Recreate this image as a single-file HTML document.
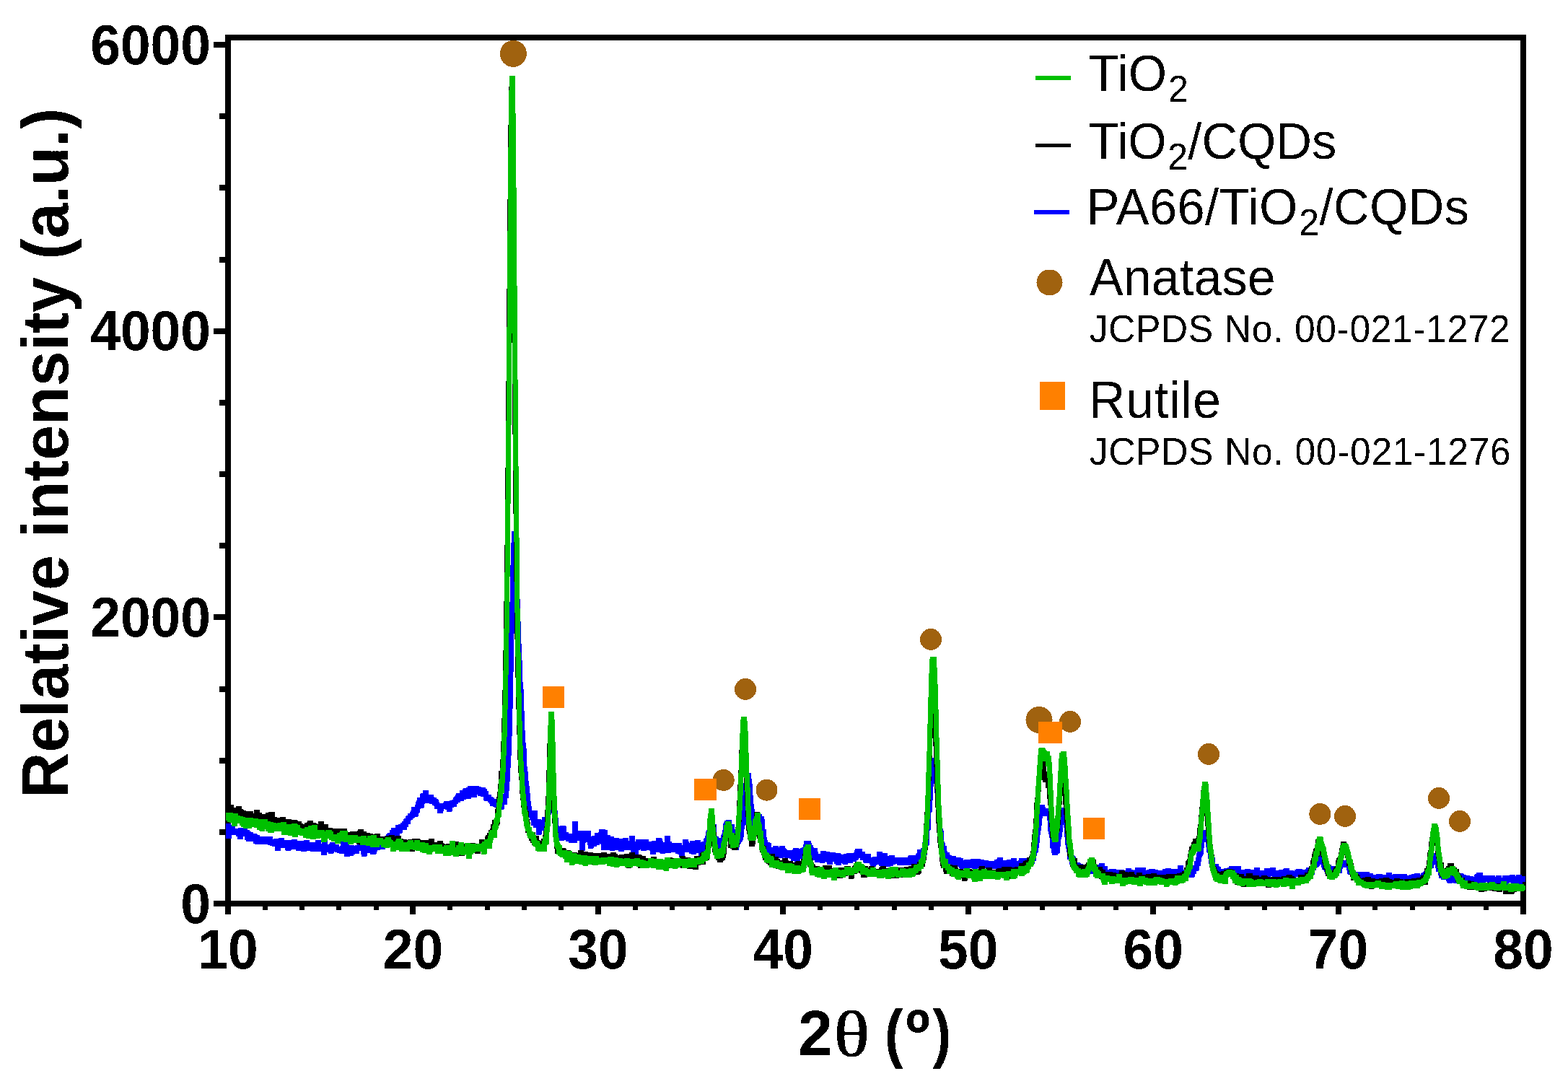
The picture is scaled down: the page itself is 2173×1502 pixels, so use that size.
<!DOCTYPE html><html><head><meta charset="utf-8"><title>XRD</title><style>html,body{margin:0;padding:0;background:#fff;width:2173px;height:1502px;overflow:hidden}svg{display:block}</style></head><body><svg width="2173" height="1502" viewBox="0 0 2173 1502"><rect width="100%" height="100%" fill="#fff"/><defs><filter id="al" x="0" y="0" width="100%" height="100%" filterUnits="userSpaceOnUse" color-interpolation-filters="sRGB"><feComponentTransfer><feFuncA type="discrete" tableValues="0 1"/></feComponentTransfer></filter></defs><g fill="#000" shape-rendering="crispEdges"><rect x="312" y="48" width="1803" height="8"/><rect x="312" y="1248" width="1803" height="8"/><rect x="312" y="48" width="8" height="1208"/><rect x="2107" y="48" width="8" height="1208"/><rect x="296" y="1248.0" width="16" height="8"/><rect x="304" y="1148.8" width="8" height="8"/><rect x="304" y="1049.7" width="8" height="8"/><rect x="304" y="950.5" width="8" height="8"/><rect x="296" y="851.3" width="16" height="8"/><rect x="304" y="752.2" width="8" height="8"/><rect x="304" y="653.0" width="8" height="8"/><rect x="304" y="553.8" width="8" height="8"/><rect x="296" y="454.7" width="16" height="8"/><rect x="304" y="355.5" width="8" height="8"/><rect x="304" y="256.3" width="8" height="8"/><rect x="304" y="157.2" width="8" height="8"/><rect x="296" y="58.0" width="16" height="8"/><rect x="312.0" y="1256" width="8" height="11"/><rect x="363.8" y="1256" width="7" height="5"/><rect x="415.1" y="1256" width="7" height="5"/><rect x="466.4" y="1256" width="7" height="5"/><rect x="517.6" y="1256" width="7" height="5"/><rect x="568.4" y="1256" width="8" height="11"/><rect x="620.2" y="1256" width="7" height="5"/><rect x="671.5" y="1256" width="7" height="5"/><rect x="722.8" y="1256" width="7" height="5"/><rect x="774.1" y="1256" width="7" height="5"/><rect x="824.9" y="1256" width="8" height="11"/><rect x="876.6" y="1256" width="7" height="5"/><rect x="927.9" y="1256" width="7" height="5"/><rect x="979.2" y="1256" width="7" height="5"/><rect x="1030.5" y="1256" width="7" height="5"/><rect x="1081.3" y="1256" width="8" height="11"/><rect x="1133.1" y="1256" width="7" height="5"/><rect x="1184.4" y="1256" width="7" height="5"/><rect x="1235.6" y="1256" width="7" height="5"/><rect x="1286.9" y="1256" width="7" height="5"/><rect x="1337.7" y="1256" width="8" height="11"/><rect x="1389.5" y="1256" width="7" height="5"/><rect x="1440.8" y="1256" width="7" height="5"/><rect x="1492.1" y="1256" width="7" height="5"/><rect x="1543.4" y="1256" width="7" height="5"/><rect x="1594.1" y="1256" width="8" height="11"/><rect x="1645.9" y="1256" width="7" height="5"/><rect x="1697.2" y="1256" width="7" height="5"/><rect x="1748.5" y="1256" width="7" height="5"/><rect x="1799.8" y="1256" width="7" height="5"/><rect x="1850.6" y="1256" width="8" height="11"/><rect x="1902.4" y="1256" width="7" height="5"/><rect x="1953.6" y="1256" width="7" height="5"/><rect x="2004.9" y="1256" width="7" height="5"/><rect x="2056.2" y="1256" width="7" height="5"/><rect x="2107.0" y="1256" width="8" height="11"/></g><g shape-rendering="crispEdges"><polygon fill="#0000ff" points="313,1141 320,1141 320.5,1143 326,1143 326.5,1147.5 329,1147.5 329.5,1148 330,1148 330.5,1147 338,1147 338.5,1148 342.5,1148 343,1149.5 343.5,1149.5 344,1150 345.5,1150 346,1151.5 347.5,1151.5 348,1153 350.5,1153 351,1155 355.5,1155 356,1155.5 356.5,1155.5 357,1157 360,1157 360.5,1158.5 370,1158.5 370.5,1159 378,1159 378.5,1162.5 379,1161.5 385.5,1161.5 386,1160.5 393.5,1160.5 394,1164 396.5,1164 397,1165.5 397.5,1164 404,1164 404.5,1163 412,1163 412.5,1164.5 420.5,1164.5 421,1164 428.5,1164 429,1167 437,1167 437.5,1164 445,1164 445.5,1169 446,1169 446.5,1164.5 454,1164.5 454.5,1169.5 456.5,1169.5 457,1167 464.5,1167 465,1170 469.5,1170 470,1172.5 471.5,1172.5 472,1165 480,1165 480.5,1166.5 483,1166.5 483.5,1170.5 491,1170.5 491.5,1172.5 492,1172.5 492.5,1171 494.5,1171 495,1166 502.5,1166 503,1169 505.5,1169 506,1170 506.5,1170 507,1167.5 510.5,1167.5 511,1167 516,1167 516.5,1166.5 525,1166.5 525.5,1159 532.5,1159 533,1158 534.5,1158 535,1155.5 536.5,1155.5 537,1154 539.5,1154 540,1150 541.5,1150 542,1147 547.5,1147 548,1142.5 551.5,1142.5 552,1142 555,1142 555.5,1140 557,1140 557.5,1138 559,1138 559.5,1134.5 560,1134.5 560.5,1133.5 562,1133.5 562.5,1130.5 563,1130.5 563.5,1130 565,1130 565.5,1126.5 568,1126.5 568.5,1124.5 569,1124.5 569.5,1123 570,1123 570.5,1118 574.5,1118 575,1114.5 575.5,1114.5 576,1110.5 576.5,1110.5 577,1109.5 577.5,1109.5 578,1105 581.5,1105 582,1100 582.5,1100 583,1099 585.5,1099 586,1095 593.5,1095 594,1100.5 601,1100.5 601.5,1104.5 604,1104.5 604.5,1105 605,1105 605.5,1107 606,1107 606.5,1107.5 608,1107.5 608.5,1111 609,1111 609.5,1112.5 611,1112.5 611.5,1113 613.5,1113 614,1112.5 614.5,1112.5 615,1110 622.5,1110 623,1108.5 625.5,1108.5 626,1108 627.5,1108 628,1105 628.5,1105 629,1103.5 630.5,1103.5 631,1100.5 631.5,1100.5 632,1098.5 637,1098.5 637.5,1095 641,1095 641.5,1092.5 642,1092.5 642.5,1092 646,1092 646.5,1090.5 648,1090.5 648.5,1088.5 656,1088.5 656.5,1089 663.5,1089 664,1090 666.5,1090 667,1091 672.5,1091 673,1093 674.5,1093 675,1095.5 676.5,1095.5 677,1101 681,1101 681.5,1103.5 683,1103.5 683.5,1105 685,1105 685.5,1106.5 690,1106.5 690.5,1109 691,1109 691.5,1108.5 692.5,1108.5 693,1105.5 693.5,1105.5 694,1101.5 695.5,1101.5 696,1100 697.5,1100 698,1090 698.5,1090 699,1077 699.5,1077 700,1058 700.5,1058 701,1042 701.5,1042 702,1014.5 702.5,1014.5 703,976.5 703.5,976.5 704,926.5 704.5,926.5 705,872 705.5,872 706,834.5 706.5,834.5 707,783.5 707.5,783.5 708,752.5 708.5,752.5 709,736 716.5,736 717,748 718,748 718.5,766 719,766 719.5,804 720,804 720.5,829.5 721,829.5 721.5,860.5 722,860.5 722.5,891.5 723,891.5 723.5,914.5 724,914.5 724.5,944.5 725,944.5 725.5,955 726,955 726.5,984.5 727,984.5 727.5,1011.5 728,1011.5 728.5,1029 729,1029 729.5,1036.5 730,1036.5 730.5,1061.5 731,1061.5 731.5,1069.5 732,1069.5 732.5,1081.5 733,1081.5 733.5,1089 734,1089 734.5,1099 735,1099 735.5,1110 736,1110 736.5,1117 737,1117 737.5,1122.5 744.5,1122.5 745,1134.5 749.5,1134.5 750,1136 750.5,1136 751,1132 755,1132 755.5,1126.5 756,1126.5 756.5,1123 757,1123 757.5,1119 758,1119 758.5,1111.5 759,1111.5 759.5,1094.5 760,1094.5 760.5,1089.5 761,1089.5 761.5,1086 769,1086 769.5,1100.5 770,1100.5 770.5,1101.5 771,1101.5 771.5,1121 772,1121 772.5,1122.5 773,1122.5 773.5,1133 774,1133 774.5,1143.5 775,1143.5 775.5,1145.5 776,1143.5 783.5,1143.5 784,1145 784.5,1145 785,1152.5 787.5,1152.5 788,1154.5 793,1154.5 793.5,1138 801,1138 801.5,1151 818.5,1151 819,1159 819.5,1159 820,1158 823.5,1158 824,1153.5 829.5,1153.5 830,1149 838,1149 838.5,1149.5 842,1149.5 842.5,1157 846,1157 846.5,1158.5 851,1158.5 851.5,1161 857,1161 857.5,1161.5 861.5,1161.5 862,1162 862.5,1162 863,1161 870.5,1161 871,1164.5 872,1164.5 872.5,1157.5 880,1157.5 880.5,1166 881,1166 881.5,1162.5 898.5,1162.5 899,1166 902.5,1166 903,1165 908.5,1165 909,1161 916.5,1161 917,1162 918,1162 918.5,1165 919,1165 919.5,1167 921,1167 921.5,1157.5 929,1157.5 929.5,1166 931,1166 931.5,1168 944.5,1168 945,1170.5 945.5,1170.5 946,1162.5 953.5,1162.5 954,1166 954.5,1166 955,1168 955.5,1168 956,1170 956.5,1165 963,1165 963.5,1163.5 971,1163.5 971.5,1166.5 972,1165.5 974.5,1165.5 975,1161.5 976.5,1161.5 977,1158 977.5,1158 978,1152 978.5,1152 979,1150.5 979.5,1150.5 980,1147 980.5,1147 981,1144.5 981.5,1144.5 982,1140 982.5,1140 983,1137 990.5,1137 991,1141.5 991.5,1141.5 992,1142 992.5,1142 993,1158 993.5,1158 994,1159 995.5,1159 996,1161 999,1161 999.5,1157 1000,1157 1000.5,1155 1001,1155 1001.5,1150 1002,1150 1002.5,1140.5 1003,1140.5 1003.5,1138.5 1004,1138.5 1004.5,1137 1006,1137 1006.5,1135.5 1014,1135.5 1014.5,1141.5 1017.5,1141.5 1018,1148.5 1018.5,1148.5 1019,1155 1019.5,1155 1020,1157 1020.5,1157 1021,1160.5 1021.5,1160.5 1022,1158 1022.5,1158 1023,1154 1023.5,1154 1024,1143 1024.5,1143 1025,1136 1026.5,1136 1027,1121 1027.5,1121 1028,1105 1028.5,1105 1029,1099 1029.5,1099 1030,1085.5 1030.5,1085.5 1031,1079 1032,1079 1032.5,1076 1033,1076 1033.5,1071 1041,1071 1041.5,1078.5 1042,1078.5 1042.5,1086.5 1043,1086.5 1043.5,1102.5 1044,1102.5 1044.5,1113.5 1045,1113.5 1045.5,1121 1046,1121 1046.5,1131.5 1048,1131.5 1048.5,1127.5 1056,1127.5 1056.5,1131 1058.5,1131 1059,1134.5 1059.5,1134.5 1060,1149 1061.5,1149 1062,1160 1062.5,1160 1063,1164 1063.5,1164 1064,1166.5 1064.5,1166.5 1065,1167 1066.5,1167 1067,1168 1068.5,1168 1069,1173.5 1071,1173.5 1071.5,1172 1079,1172 1079.5,1174 1080,1174 1080.5,1171.5 1088,1171.5 1088.5,1174.5 1089,1174.5 1089.5,1176.5 1090,1176.5 1090.5,1177 1091,1177 1091.5,1178 1097.5,1178 1098,1176.5 1098.5,1176.5 1099,1174.5 1106.5,1174.5 1107,1176 1108.5,1176 1109,1175 1111,1175 1111.5,1174 1112,1174 1112.5,1173.5 1113,1173.5 1113.5,1169.5 1114,1169.5 1114.5,1165 1116,1165 1116.5,1164.5 1124,1164.5 1124.5,1167.5 1125,1167.5 1125.5,1170.5 1127,1170.5 1127.5,1174.5 1133,1174.5 1133.5,1180 1134,1180 1134.5,1182.5 1135,1182.5 1135.5,1183 1136.5,1183 1137,1178.5 1144.5,1178.5 1145,1180 1149.5,1180 1150,1180.5 1157,1180.5 1157.5,1181.5 1165,1181.5 1165.5,1183.5 1169,1183.5 1169.5,1182.5 1172.5,1182.5 1173,1182 1180.5,1182 1181,1181.5 1183.5,1181.5 1184,1178 1184.5,1178 1185,1176 1194.5,1176 1195,1179.5 1199,1179.5 1199.5,1182.5 1207,1182.5 1207.5,1188 1209,1188 1209.5,1187 1214.5,1187 1215,1179.5 1222.5,1179.5 1223,1182 1229.5,1182 1230,1185.5 1232,1185.5 1232.5,1185 1240,1185 1240.5,1187.5 1244,1187.5 1244.5,1188 1246,1188 1246.5,1187.5 1254,1187.5 1254.5,1188 1255,1188 1255.5,1188.5 1256,1188 1257.5,1188 1258,1186.5 1258.5,1186.5 1259,1185 1268.5,1185 1269,1183 1269.5,1183 1270,1182 1271,1182 1271.5,1176.5 1276,1176.5 1276.5,1174.5 1278,1174.5 1278.5,1167 1279,1167 1279.5,1166 1280,1166 1280.5,1164.5 1281,1164.5 1281.5,1144.5 1282,1144.5 1282.5,1143.5 1283,1143.5 1283.5,1120 1284,1120 1284.5,1119 1285,1119 1285.5,1102.5 1286,1102.5 1286.5,1084 1287,1084 1287.5,1070.5 1288,1070.5 1288.5,1064 1289,1064 1289.5,1051.5 1290.5,1051.5 1291,1049.5 1298.5,1049.5 1299,1053.5 1299.5,1053.5 1300,1069.5 1300.5,1069.5 1301,1079.5 1301.5,1079.5 1302,1093 1302.5,1093 1303,1105 1303.5,1105 1304,1121.5 1304.5,1121.5 1305,1136 1305.5,1136 1306,1147.5 1306.5,1147.5 1307,1151 1307.5,1151 1308,1165.5 1308.5,1165.5 1309,1168 1309.5,1168 1310,1172 1311.5,1172 1312,1178.5 1312.5,1178.5 1313,1180.5 1315.5,1180.5 1316,1183.5 1317,1183.5 1317.5,1185 1319,1185 1319.5,1186 1325,1186 1325.5,1188 1331,1188 1331.5,1188.5 1335,1188.5 1335.5,1192.5 1336,1190.5 1343.5,1190.5 1344,1191 1344.5,1191 1345,1189.5 1352.5,1189.5 1353,1190 1358,1190 1358.5,1190.5 1363,1190.5 1363.5,1191.5 1370,1191.5 1370.5,1193 1376.5,1193 1377,1193.5 1377.5,1193.5 1378,1191 1380.5,1191 1381,1190.5 1381.5,1190.5 1382,1187.5 1389.5,1187.5 1390,1191.5 1395,1191.5 1395.5,1190.5 1401,1190.5 1401.5,1188.5 1409,1188.5 1409.5,1193 1410.5,1193 1411,1192.5 1411.5,1192.5 1412,1189 1415.5,1189 1416,1188.5 1426.5,1188.5 1427,1185 1428.5,1185 1429,1180 1430,1180 1430.5,1175.5 1431,1175.5 1431.5,1174.5 1432,1174.5 1432.5,1168.5 1433,1168.5 1433.5,1162 1434,1162 1434.5,1151 1435,1151 1435.5,1144.5 1436,1144.5 1436.5,1138 1437,1138 1437.5,1127.5 1438,1127.5 1438.5,1117 1439,1117 1439.5,1116 1440,1116 1440.5,1115 1448,1115 1448.5,1117.5 1449,1117.5 1449.5,1120 1454,1120 1454.5,1123 1456.5,1123 1457,1125 1457.5,1125 1458,1130.5 1458.5,1130.5 1459,1146 1459.5,1146 1460,1149.5 1460.5,1149.5 1461,1155 1461.5,1155 1462,1167.5 1462.5,1167.5 1463,1157.5 1463.5,1157.5 1464,1154.5 1464.5,1154.5 1465,1147 1465.5,1147 1466,1137.5 1466.5,1137.5 1467,1130 1467.5,1130 1468,1120 1471,1120 1471.5,1119 1479,1119 1479.5,1123.5 1480,1123.5 1480.5,1132.5 1481,1132.5 1481.5,1141 1482,1141 1482.5,1154 1483,1154 1483.5,1165 1484,1165 1484.5,1170 1485,1170 1485.5,1174.5 1486,1174.5 1486.5,1184.5 1487,1184.5 1487.5,1185 1488,1185 1488.5,1185.5 1489,1185.5 1489.5,1186.5 1491,1186.5 1491.5,1191 1492,1191 1492.5,1194.5 1496.5,1194.5 1497,1196 1497.5,1196 1498,1196.5 1500.5,1196.5 1501,1197.5 1501.5,1197.5 1502,1198 1507.5,1198 1508,1197.5 1508.5,1197.5 1509,1195.5 1517,1195.5 1517.5,1197.5 1523,1197.5 1523.5,1195.5 1531,1195.5 1531.5,1200 1535,1200 1535.5,1204.5 1536.5,1204.5 1537,1204 1546.5,1204 1547,1205 1548.5,1205 1549,1204.5 1557,1204.5 1557.5,1205.5 1560,1205.5 1560.5,1203 1568,1203 1568.5,1205 1571,1205 1571.5,1206.5 1572,1205 1572.5,1205 1573,1202 1579.5,1202 1580,1201.5 1587.5,1201.5 1588,1206.5 1588.5,1206.5 1589,1205 1592,1205 1592.5,1204 1600,1204 1600.5,1204.5 1604,1204.5 1604.5,1205.5 1606,1205.5 1606.5,1206 1610.5,1206 1611,1204 1614.5,1204 1615,1202.5 1622.5,1202.5 1623,1204 1630.5,1204 1631,1205 1631.5,1203.5 1632,1203.5 1632.5,1199 1640,1199 1640.5,1205 1643,1205 1643.5,1204.5 1648,1204.5 1648.5,1200.5 1651.5,1200.5 1652,1199 1654.5,1199 1655,1193 1656.5,1193 1657,1188 1657.5,1188 1658,1182.5 1658.5,1182.5 1659,1180 1659.5,1180 1660,1177.5 1660.5,1177.5 1661,1169.5 1661.5,1169.5 1662,1161 1662.5,1161 1663,1159 1663.5,1159 1664,1150 1671.5,1150 1672,1151 1673.5,1151 1674,1153 1677,1153 1677.5,1160.5 1678,1160.5 1678.5,1168.5 1679,1168.5 1679.5,1175 1680,1175 1680.5,1176 1681,1176 1681.5,1184 1682,1184 1682.5,1187.5 1684,1187.5 1684.5,1196.5 1689,1196.5 1689.5,1200.5 1690,1200.5 1690.5,1201 1692,1201 1692.5,1203.5 1693,1203.5 1693.5,1204 1695.5,1204 1696,1202.5 1700.5,1202.5 1701,1202 1702.5,1202 1703,1199.5 1711.5,1199.5 1712,1203 1712.5,1200 1720,1200 1720.5,1205 1721,1205 1721.5,1204.5 1725,1204.5 1725.5,1203.5 1733,1203.5 1733.5,1205 1737.5,1205 1738,1202 1745.5,1202 1746,1205.5 1752,1205.5 1752.5,1203 1760,1203 1760.5,1202 1768,1202 1768.5,1206 1771.5,1206 1772,1204.5 1778.5,1204.5 1779,1203 1786.5,1203 1787,1206 1792.5,1206 1793,1207 1793.5,1206.5 1794,1206.5 1794.5,1205 1796,1205 1796.5,1203.5 1804,1203.5 1804.5,1204.5 1809.5,1204.5 1810,1201.5 1814.5,1201.5 1815,1199.5 1816.5,1199.5 1817,1196 1817.5,1196 1818,1194.5 1820.5,1194.5 1821,1194 1821.5,1194 1822,1191 1822.5,1191 1823,1188.5 1823.5,1188.5 1824,1184.5 1831.5,1184.5 1832,1187 1833.5,1187 1834,1189.5 1837,1189.5 1837.5,1192 1838,1192 1838.5,1195.5 1841,1195.5 1841.5,1197.5 1845,1197.5 1845.5,1200 1848,1200 1848.5,1199.5 1850.5,1199.5 1851,1198.5 1853.5,1198.5 1854,1194.5 1855.5,1194.5 1856,1193.5 1857.5,1193.5 1858,1192.5 1860.5,1192.5 1861,1191.5 1868.5,1191.5 1869,1193.5 1870.5,1193.5 1871,1195.5 1872.5,1195.5 1873,1200 1873.5,1200 1874,1204.5 1875,1204.5 1875.5,1205 1878,1205 1878.5,1206 1879,1206 1879.5,1207.5 1892,1207.5 1892.5,1208 1897.5,1208 1898,1210 1902.5,1210 1903,1211.5 1906.5,1211.5 1907,1210.5 1915,1210.5 1915.5,1211.5 1921,1211.5 1921.5,1209 1929,1209 1929.5,1212.5 1930,1211 1935.5,1211 1936,1210.5 1949.5,1210.5 1950,1212.5 1953,1212.5 1953.5,1211.5 1956,1211.5 1956.5,1210.5 1960,1210.5 1960.5,1210 1968,1210 1968.5,1211.5 1969,1210.5 1969.5,1210.5 1970,1209 1971.5,1209 1972,1207.5 1972.5,1207.5 1973,1206.5 1974.5,1206.5 1975,1206 1976.5,1206 1977,1197.5 1977.5,1197.5 1978,1194.5 1979.5,1194.5 1980,1192.5 1980.5,1192.5 1981,1188.5 1981.5,1188.5 1982,1185.5 1983.5,1185.5 1984,1181.5 1991.5,1181.5 1992,1185 1993.5,1185 1994,1189 1995,1189 1995.5,1191.5 1996,1191.5 1996.5,1196.5 1997,1196.5 1997.5,1201.5 2000,1201.5 2000.5,1207 2001,1207 2001.5,1208.5 2003,1208.5 2003.5,1209.5 2004,1209.5 2004.5,1210 2010,1210 2010.5,1211.5 2016.5,1211.5 2017,1212.5 2019.5,1212.5 2020,1210 2027.5,1210 2028,1211 2028.5,1211 2029,1212 2031.5,1212 2032,1212.5 2037,1212.5 2037.5,1214 2042,1214 2042.5,1215 2043,1215 2043.5,1212 2044,1212 2044.5,1210.5 2046,1210.5 2046.5,1208.5 2054.5,1208.5 2055,1213 2071.5,1213 2072,1215 2073,1215 2073.5,1212.5 2081,1212.5 2081.5,1215.5 2082,1215.5 2082.5,1213 2091.5,1213 2092,1212 2099.5,1212 2100,1214 2100.5,1214 2101,1211.5 2108.5,1211.5 2109,1213.5 2114,1213.5 2114,1221.5 2110,1221.5 2109.5,1225.5 2102,1225.5 2101.5,1226 2094,1226 2093.5,1222.5 2092.5,1222.5 2092,1223 2091.5,1223 2091,1224.5 2089.5,1224.5 2089,1226 2087.5,1226 2087,1227.5 2079.5,1227.5 2079,1225 2078.5,1225 2078,1226.5 2070.5,1226.5 2070,1225.5 2068,1225.5 2067.5,1223 2063,1223 2062.5,1222.5 2061,1222.5 2060.5,1222 2059,1222 2058.5,1225.5 2051,1225.5 2050.5,1225 2049,1225 2048.5,1224 2048,1224.5 2037.5,1224.5 2037,1223.5 2034,1223.5 2033.5,1224 2026,1224 2025.5,1222.5 2025,1222.5 2024.5,1221 2022,1221 2021.5,1223.5 2014,1223.5 2013.5,1222.5 2013,1223.5 2005.5,1223.5 2005,1221.5 2004.5,1221.5 2004,1219.5 2003.5,1219.5 2003,1219 1997.5,1219 1997,1216.5 1994.5,1216.5 1994,1213 1993.5,1213 1993,1208 1990.5,1208 1990,1202.5 1989.5,1202.5 1989,1197.5 1988,1197.5 1987.5,1198.5 1987,1198.5 1986.5,1203 1985,1203 1984.5,1203.5 1984,1203.5 1983.5,1212 1982,1212 1981.5,1215 1979,1215 1978.5,1219.5 1975,1219.5 1974.5,1220 1972.5,1220 1972,1223 1964.5,1223 1964,1222.5 1960.5,1222.5 1960,1224.5 1950.5,1224.5 1950,1222.5 1946,1222.5 1945.5,1223.5 1945,1223.5 1944.5,1225 1935,1225 1934.5,1221 1933.5,1221 1933,1222.5 1932.5,1222.5 1932,1226 1924.5,1226 1924,1223.5 1916.5,1223.5 1916,1224 1908,1224 1907.5,1222 1907,1222 1906.5,1224 1899,1224 1898.5,1221 1898,1221 1897.5,1220.5 1894,1220.5 1893.5,1219.5 1888.5,1219.5 1888,1220 1880.5,1220 1880,1219 1876.5,1219 1876,1216.5 1874.5,1216.5 1874,1215 1872.5,1215 1872,1212 1871.5,1212 1871,1211.5 1868,1211.5 1867.5,1210.5 1867,1210.5 1866.5,1206 1866,1206 1865.5,1202 1861,1202 1860.5,1204.5 1860,1204.5 1859.5,1210 1853.5,1210 1853,1214 1845.5,1214 1845,1212.5 1842.5,1212.5 1842,1211 1836.5,1211 1836,1208 1835.5,1208 1835,1206.5 1834.5,1206.5 1834,1204.5 1832.5,1204.5 1832,1202 1831.5,1202 1831,1198 1830.5,1198 1830,1197.5 1829,1197.5 1828.5,1200 1828,1200 1827.5,1201 1827,1201 1826.5,1201.5 1825,1201.5 1824.5,1202 1824,1202 1823.5,1206 1822,1206 1821.5,1212 1817,1212 1816.5,1213 1816,1213 1815.5,1216 1810.5,1216 1810,1218.5 1802.5,1218.5 1802,1214.5 1800.5,1214.5 1800,1215 1796.5,1215 1796,1216 1792,1216 1791.5,1218.5 1784,1218.5 1783.5,1218 1780,1218 1779.5,1217 1776,1217 1775.5,1215.5 1770,1215.5 1769.5,1215 1763.5,1215 1763,1214 1761.5,1214 1761,1217.5 1753.5,1217.5 1753,1215 1752.5,1215.5 1748,1215.5 1747.5,1216.5 1740,1216.5 1739.5,1213.5 1739,1213.5 1738.5,1214.5 1738,1214.5 1737.5,1215.5 1730,1215.5 1729.5,1214.5 1724.5,1214.5 1724,1214 1722.5,1214 1722,1217.5 1714.5,1217.5 1714,1214 1713.5,1216 1706,1216 1705.5,1213 1702,1213 1701.5,1213.5 1698,1213.5 1697.5,1216.5 1690,1216.5 1689.5,1213.5 1686.5,1213.5 1686,1211 1683.5,1211 1683,1206.5 1682.5,1206.5 1682,1204 1680.5,1204 1680,1203.5 1677.5,1203.5 1677,1196.5 1675.5,1196.5 1675,1190 1674.5,1190 1674,1182 1673.5,1182 1673,1181 1672.5,1181 1672,1174.5 1671.5,1174.5 1671,1166.5 1670.5,1166.5 1670,1165 1669.5,1167 1669,1167 1668.5,1175.5 1668,1175.5 1667.5,1183.5 1667,1183.5 1666.5,1186 1666,1186 1665.5,1188.5 1665,1188.5 1664.5,1194 1664,1194 1663.5,1200 1662,1200 1661.5,1206.5 1659,1206.5 1658.5,1207 1658,1207 1657.5,1211 1656,1211 1655.5,1215.5 1647.5,1215.5 1647,1215 1640.5,1215 1640,1214.5 1635.5,1214.5 1635,1213 1629,1213 1628.5,1216 1618,1216 1617.5,1215.5 1613,1215.5 1612.5,1214.5 1612,1214.5 1611.5,1214 1611,1216 1609.5,1216 1609,1216.5 1601.5,1216.5 1601,1215.5 1595.5,1215.5 1595,1214.5 1594,1214.5 1593.5,1215.5 1583,1215.5 1582.5,1216 1579,1216 1578.5,1217 1571,1217 1570.5,1215 1570,1215.5 1566.5,1215.5 1566,1218 1558.5,1218 1558,1217.5 1556.5,1217.5 1556,1214.5 1555.5,1214.5 1555,1213.5 1546,1213.5 1545.5,1213 1544,1213 1543.5,1213.5 1539,1213.5 1538.5,1216.5 1531,1216.5 1530.5,1215 1529.5,1215 1529,1214 1526.5,1214 1526,1216.5 1518.5,1216.5 1518,1211 1515.5,1211 1515,1209.5 1514.5,1210.5 1507,1210.5 1506.5,1209 1506,1209 1505.5,1210.5 1498,1210.5 1497.5,1209.5 1495,1209.5 1494.5,1205 1491,1205 1490.5,1204.5 1486.5,1204.5 1486,1204 1485.5,1204 1485,1197.5 1482.5,1197.5 1482,1191.5 1481.5,1191.5 1481,1191 1480.5,1191 1480,1190.5 1479.5,1190.5 1479,1180.5 1478.5,1180.5 1478,1176 1477.5,1176 1477,1171 1476.5,1171 1476,1160 1475.5,1160 1475,1147 1474.5,1147 1474,1138.5 1473.5,1143.5 1473,1143.5 1472.5,1153 1472,1153 1471.5,1160.5 1471,1160.5 1470.5,1163.5 1470,1163.5 1469.5,1173.5 1469,1173.5 1468.5,1182.5 1466,1182.5 1465.5,1184.5 1458,1184.5 1457.5,1182 1457,1182 1456.5,1176 1456,1176 1455.5,1175 1455,1175 1454.5,1161 1454,1161 1453.5,1155.5 1453,1155.5 1452.5,1152 1452,1152 1451.5,1136.5 1451,1136.5 1450.5,1131 1449.5,1131 1449,1130.5 1445.5,1130.5 1445,1133.5 1444.5,1133.5 1444,1144 1443.5,1144 1443,1150.5 1442.5,1150.5 1442,1157 1441.5,1157 1441,1168 1440.5,1168 1440,1174.5 1439.5,1174.5 1439,1180.5 1438.5,1180.5 1438,1181.5 1437.5,1181.5 1437,1186 1436.5,1186 1436,1193 1434,1193 1433.5,1197 1427,1197 1426.5,1200.5 1426,1200.5 1425.5,1204.5 1417,1204.5 1416.5,1202 1412.5,1202 1412,1202.5 1410.5,1202.5 1410,1205.5 1393.5,1205.5 1393,1204.5 1387,1204.5 1386.5,1203 1385,1203 1384.5,1202.5 1383,1202.5 1382.5,1203.5 1378,1203.5 1377.5,1204 1375.5,1204 1375,1207 1367.5,1207 1367,1202.5 1365.5,1202.5 1365,1204 1357.5,1204 1357,1202.5 1355,1202.5 1354.5,1204 1347,1204 1346.5,1202.5 1345,1202.5 1344.5,1203 1338,1203 1337.5,1203.5 1329.5,1203.5 1329,1201.5 1328.5,1201.5 1328,1200.5 1325.5,1200.5 1325,1200 1319.5,1200 1319,1199 1316.5,1199 1316,1196.5 1312.5,1196.5 1312,1194 1306,1194 1305.5,1186.5 1303,1186.5 1302.5,1174 1302,1174 1301.5,1171.5 1301,1171.5 1300.5,1157 1300,1157 1299.5,1153.5 1299,1153.5 1298.5,1142 1298,1142 1297.5,1127.5 1297,1127.5 1296.5,1111 1296,1111 1295.5,1099 1295,1099 1294.5,1085.5 1294,1090 1293.5,1090 1293,1108.5 1292.5,1108.5 1292,1125 1291.5,1125 1291,1126 1290.5,1126 1290,1149.5 1289.5,1149.5 1289,1150.5 1288.5,1150.5 1288,1170.5 1287.5,1170.5 1287,1172 1286.5,1172 1286,1173 1285.5,1173 1285,1184.5 1283.5,1184.5 1283,1188 1282.5,1188 1282,1189.5 1276,1189.5 1275.5,1197.5 1271,1197.5 1270.5,1200.5 1263,1200.5 1262.5,1199 1249.5,1199 1249,1198.5 1243.5,1198.5 1243,1197 1241.5,1197 1241,1198 1238.5,1198 1238,1199.5 1234,1199.5 1233.5,1200.5 1232,1200.5 1231.5,1201 1224,1201 1223.5,1199.5 1218,1199.5 1217.5,1197.5 1215.5,1197.5 1215,1199 1214.5,1199 1214,1201 1206.5,1201 1206,1198 1205.5,1198 1205,1195.5 1196.5,1195.5 1196,1191.5 1192.5,1191.5 1192,1189 1190,1189 1189.5,1191.5 1187,1191.5 1186.5,1194 1182,1194 1181.5,1196 1175.5,1196 1175,1197.5 1167.5,1197.5 1167,1195.5 1166.5,1195.5 1166,1199 1158.5,1199 1158,1197 1156.5,1197 1156,1194 1154,1194 1153.5,1198 1146,1198 1145.5,1194.5 1145,1194.5 1144.5,1194 1144,1194 1143.5,1195.5 1136,1195.5 1135.5,1194.5 1129.5,1194.5 1129,1191.5 1123.5,1191.5 1123,1186.5 1121.5,1186.5 1121,1182 1120.5,1182 1120,1179.5 1119.5,1179.5 1119,1180 1118.5,1180 1118,1191 1110,1191 1109.5,1189.5 1109,1189.5 1108.5,1194.5 1101,1194.5 1100.5,1192.5 1096,1192.5 1095.5,1189.5 1094,1189.5 1093.5,1189 1087.5,1189 1087,1188 1086.5,1188 1086,1189 1078.5,1189 1078,1187.5 1076.5,1187.5 1076,1186.5 1073.5,1186.5 1073,1186 1066,1186 1065.5,1184.5 1065,1184.5 1064.5,1180.5 1062,1180.5 1061.5,1179.5 1060,1179.5 1059.5,1174.5 1058,1174.5 1057.5,1172.5 1057,1172.5 1056.5,1170 1056,1170 1055.5,1166 1055,1166 1054.5,1156 1053,1156 1052.5,1144.5 1052,1150 1051.5,1150 1051,1150.5 1049.5,1150.5 1049,1153 1041.5,1153 1041,1141.5 1040.5,1141.5 1040,1137.5 1039.5,1137.5 1039,1127 1038.5,1127 1038,1119.5 1037.5,1119.5 1037,1108.5 1036.5,1108.5 1036,1105 1035.5,1111 1035,1111 1034.5,1127 1034,1127 1033.5,1143.5 1032,1143.5 1031.5,1149 1031,1149 1030.5,1160 1030,1160 1029.5,1164 1029,1164 1028.5,1166.5 1027,1166.5 1026.5,1169 1026,1169 1025.5,1170 1025,1170 1024.5,1174 1024,1174 1023.5,1178 1016,1178 1015.5,1174 1014,1174 1013.5,1163 1013,1163 1012.5,1161 1012,1161 1011.5,1154.5 1010.5,1154.5 1010,1150.5 1009.5,1150.5 1009,1156 1008.5,1156 1008,1161 1007.5,1161 1007,1163 1006.5,1163 1006,1177 1004.5,1177 1004,1179 996.5,1179 996,1178.5 994.5,1178.5 994,1178 991,1178 990.5,1173.5 990,1173.5 989.5,1171.5 989,1171.5 988.5,1165 987,1165 986.5,1164 986,1164 985.5,1158 985,1158 984.5,1164 984,1164 983.5,1171.5 982,1171.5 981.5,1181.5 976.5,1181.5 976,1186.5 968.5,1186.5 968,1182 965.5,1182 965,1183.5 957.5,1183.5 957,1182.5 955.5,1182.5 955,1181 950,1181 949.5,1180.5 949,1180.5 948.5,1187.5 941,1187.5 940.5,1184 939,1184 938.5,1183 936,1183 935.5,1181 930.5,1181 930,1181.5 922.5,1181.5 922,1182.5 914.5,1182.5 914,1180.5 909,1180.5 908.5,1184 901,1184 900.5,1178.5 900,1178.5 899.5,1177.5 898,1177.5 897.5,1178 896.5,1178 896,1178.5 888.5,1178.5 888,1177 887.5,1177 887,1177.5 886.5,1177.5 886,1178 885.5,1178 885,1183.5 877.5,1183.5 877,1180.5 874.5,1180.5 874,1177.5 865,1177.5 864.5,1180 857,1180 856.5,1178 852.5,1178 852,1178.5 844.5,1178.5 844,1177.5 833.5,1177.5 833,1170.5 832.5,1170.5 832,1168.5 831,1168.5 830.5,1171 827,1171 826.5,1173 823,1173 822.5,1175.5 815,1175.5 814.5,1171 814,1171 813.5,1167 812.5,1167 812,1167.5 811.5,1167.5 811,1179 803.5,1179 803,1165 800.5,1165 800,1168 792.5,1168 792,1167.5 788,1167.5 787.5,1166 784,1166 783.5,1163.5 782,1163.5 781.5,1164.5 774,1164.5 773.5,1160 773,1160 772.5,1156 770.5,1156 770,1155 768.5,1155 768,1149.5 767.5,1149.5 767,1139 766.5,1139 766,1128.5 765.5,1128.5 765,1127 764.5,1127 764,1129 763.5,1129 763,1132.5 762.5,1132.5 762,1141.5 758.5,1141.5 758,1147.5 757,1147.5 756.5,1150.5 751,1150.5 750.5,1156.5 743,1156.5 742.5,1146.5 739,1146.5 738.5,1143.5 736,1143.5 735.5,1136.5 735,1136.5 734.5,1135.5 734,1135.5 733.5,1133 730.5,1133 730,1123 729.5,1123 729,1116 728.5,1116 728,1105 727.5,1105 727,1095 726.5,1095 726,1087.5 725.5,1087.5 725,1075.5 724.5,1075.5 724,1067.5 723.5,1067.5 723,1042.5 722.5,1042.5 722,1035 721.5,1035 721,1017.5 720.5,1017.5 720,990.5 719.5,990.5 719,961 718.5,961 718,950.5 717.5,950.5 717,920.5 716.5,920.5 716,897.5 715.5,897.5 715,866.5 714.5,866.5 714,835.5 713.5,840.5 713,840.5 712.5,878 712,878 711.5,932.5 711,932.5 710.5,982.5 710,982.5 709.5,1020.5 709,1020.5 708.5,1048 708,1048 707.5,1064 707,1064 706.5,1083 706,1083 705.5,1096 705,1096 704.5,1106 703,1106 702.5,1115 699,1115 698.5,1121.5 689.5,1121.5 689,1119 685.5,1119 685,1118 683.5,1118 683,1117 679.5,1117 679,1114 678.5,1114 678,1112 676.5,1112 676,1110 674.5,1110 674,1109.5 671,1109.5 670.5,1108.5 670,1108.5 669.5,1103.5 666,1103.5 665.5,1102.5 662,1102.5 661.5,1100.5 661,1100.5 660.5,1105 653.5,1105 653,1106.5 646.5,1106.5 646,1108 643.5,1108 643,1109.5 638,1109.5 637.5,1112 635,1112 634.5,1114 633,1114 632.5,1118 629,1118 628.5,1118.5 627,1118.5 626.5,1124.5 619,1124.5 618.5,1122 617,1122 616.5,1121 615.5,1121 615,1123.5 614.5,1123.5 614,1126.5 606.5,1126.5 606,1121 602.5,1121 602,1117 601.5,1117 601,1116 599.5,1116 599,1114 595.5,1114 595,1111.5 594.5,1112.5 589,1112.5 588.5,1114 588,1114 587.5,1119.5 583,1119.5 582.5,1120.5 582,1120.5 581.5,1126.5 580,1126.5 579.5,1131.5 575.5,1131.5 575,1133 574.5,1133 574,1134 572.5,1134 572,1136 570.5,1136 570,1136.5 569.5,1136.5 569,1142 566.5,1142 566,1145.5 564.5,1145.5 564,1149.5 558,1149.5 557.5,1154.5 555,1154.5 554.5,1155 554,1155 553.5,1158.5 552,1158.5 551.5,1159.5 551,1159.5 550.5,1164 544,1164 543.5,1167.5 536.5,1167.5 536,1171.5 534.5,1171.5 534,1176.5 527.5,1176.5 527,1177.5 523.5,1177.5 523,1179.5 522.5,1179.5 522,1182.5 521.5,1182.5 521,1184 513.5,1184 513,1181.5 509,1181.5 508.5,1186.5 501,1186.5 500.5,1183.5 500,1183.5 499.5,1179 498.5,1179 498,1183 492.5,1183 492,1183.5 490.5,1183.5 490,1186 485.5,1186 485,1187 477.5,1187 477,1182.5 470,1182.5 469.5,1181.5 467,1181.5 466.5,1181 464,1181 463.5,1180 463,1180 462.5,1182.5 455,1182.5 454.5,1180.5 453.5,1180.5 453,1184.5 445.5,1184.5 445,1179.5 443.5,1179.5 443,1180 432,1180 431.5,1179.5 430,1179.5 429.5,1179 425,1179 424.5,1180 417,1180 416.5,1178.5 410.5,1178.5 410,1177 404.5,1177 404,1177.5 403.5,1177.5 403,1178.5 395.5,1178.5 395,1174.5 392,1174.5 391.5,1175 389,1175 388.5,1179 381,1179 380.5,1172.5 377,1172.5 376.5,1172 374,1172 373.5,1171 371.5,1171 371,1169.5 368.5,1169.5 368,1170 353.5,1170 353,1168.5 351,1168.5 350.5,1165.5 349,1165.5 348.5,1166 341,1166 340.5,1163.5 339,1163.5 338.5,1159 337.5,1159 337,1163 329.5,1163 329,1158.5 327.5,1158.5 327,1157 323.5,1157 323,1156.5 321.5,1156.5 321,1161.5 313,1161.5"/><polygon fill="#000" points="313,1117 316,1117 316.5,1115 324,1115 324.5,1118.5 327,1118.5 327.5,1117 335,1117 335.5,1120.5 337,1120.5 337.5,1122.5 340.5,1122.5 341,1123.5 348.5,1123.5 349,1124 350.5,1124 351,1127.5 351.5,1127.5 352,1122 360,1122 360.5,1126 363,1126 363.5,1128 367,1128 367.5,1127.5 368,1127.5 368.5,1126 372,1126 372.5,1124.5 380.5,1124.5 381,1131.5 383.5,1131.5 384,1133 387.5,1133 388,1132 395.5,1132 396,1134.5 397.5,1134.5 398,1135 403,1135 403.5,1135.5 412,1135.5 412.5,1137.5 418,1137.5 418.5,1141 419.5,1141 420,1141.5 421.5,1141.5 422,1139.5 425.5,1139.5 426,1136.5 433.5,1136.5 434,1140 437.5,1140 438,1140.5 440,1140.5 440.5,1142.5 441,1142.5 441.5,1137.5 449,1137.5 449.5,1142 455,1142 455.5,1146.5 460.5,1146.5 461,1148 481,1148 481.5,1153 485,1153 485.5,1151.5 495.5,1151.5 496,1149 503.5,1149 504,1152 507.5,1152 508,1153.5 512.5,1153.5 513,1155 516.5,1155 517,1155.5 519,1155.5 519.5,1155 527,1155 527.5,1159 532,1159 532.5,1160 533,1157.5 538.5,1157.5 539,1157 546.5,1157 547,1158.5 547.5,1158.5 548,1158 555.5,1158 556,1161.5 559,1161.5 559.5,1163 564,1163 564.5,1164 565,1164 565.5,1162.5 571,1162.5 571.5,1162 573.5,1162 574,1161.5 581.5,1161.5 582,1163 582.5,1163 583,1164 586.5,1164 587,1163.5 594,1163.5 594.5,1161.5 602,1161.5 602.5,1166.5 606,1166.5 606.5,1164.5 614,1164.5 614.5,1168.5 616,1168.5 616.5,1169.5 617.5,1169.5 618,1169 622.5,1169 623,1167.5 627.5,1167.5 628,1166 635.5,1166 636,1168 637.5,1168 638,1168.5 645,1168.5 645.5,1170 647,1170 647.5,1169 650,1169 650.5,1168 658.5,1168 659,1168.5 661.5,1168.5 662,1169 663.5,1169 664,1163 671.5,1163 672,1159 673,1159 673.5,1157 675,1157 675.5,1154 677,1154 677.5,1150 679,1150 679.5,1147.5 680,1147.5 680.5,1141.5 682,1141.5 682.5,1135.5 686,1135.5 686.5,1120.5 687,1120.5 687.5,1118 688,1118 688.5,1103.5 689,1103.5 689.5,1096.5 690,1096.5 690.5,1086 691,1086 691.5,1068 692.5,1068 693,1052.5 693.5,1052.5 694,1027 694.5,1027 695,995.5 695.5,995.5 696,956.5 696.5,956.5 697,902.5 697.5,902.5 698,835 698.5,835 699,757.5 699.5,757.5 700,651.5 700.5,651.5 701,532 701.5,532 702,403 702.5,403 703,279 703.5,279 704,173.5 704.5,173.5 705,119.5 712.5,119.5 713,137.5 713.5,137.5 714,213.5 714.5,213.5 715,338.5 715.5,338.5 716,469 716.5,469 717,595.5 718,595.5 718.5,706 719,706 719.5,800 720,800 720.5,880 721,880 721.5,932.5 722,932.5 722.5,977 723,977 723.5,1012 724,1012 724.5,1046.5 725,1046.5 725.5,1064.5 726,1064.5 726.5,1074.5 727,1074.5 727.5,1093.5 728,1093.5 728.5,1103 729,1103 729.5,1113 730,1113 730.5,1116.5 731,1116.5 731.5,1123 732,1123 732.5,1124 733,1124 733.5,1134.5 734,1134.5 734.5,1139 735,1139 735.5,1147.5 736,1147.5 736.5,1148 737,1148 737.5,1152 738.5,1152 739,1152.5 741.5,1152.5 742,1158 746.5,1158 747,1164 748.5,1164 749,1165 749.5,1165 750,1161.5 752,1161.5 752.5,1157 753,1157 753.5,1151 754,1151 754.5,1145 755,1145 755.5,1121.5 756,1121.5 756.5,1102.5 757,1102.5 757.5,1066.5 758,1066.5 758.5,1030 759,1030 759.5,1010.5 760,1010.5 760.5,1005 768,1005 768.5,1023 769,1023 769.5,1045.5 770,1045.5 770.5,1088 771,1088 771.5,1120 772,1120 772.5,1135 773,1135 773.5,1152.5 774,1152.5 774.5,1161 775,1161 775.5,1169.5 776,1169.5 776.5,1174.5 778.5,1174.5 779,1175 783.5,1175 784,1176 784.5,1176 785,1177.5 785.5,1177.5 786,1178 790.5,1178 791,1180.5 800,1180.5 800.5,1182 801,1182 801.5,1178 809,1178 809.5,1179.5 815,1179.5 815.5,1181 821.5,1181 822,1181.5 828.5,1181.5 829,1182 833,1182 833.5,1181 841,1181 841.5,1183 846,1183 846.5,1181 854,1181 854.5,1183 856,1183 856.5,1184.5 857.5,1184.5 858,1184 864.5,1184 865,1183 872,1183 872.5,1180.5 880,1180.5 880.5,1184.5 881,1184.5 881.5,1183.5 889,1183.5 889.5,1185.5 895,1185.5 895.5,1188.5 901.5,1188.5 902,1186.5 909.5,1186.5 910,1190.5 915.5,1190.5 916,1191 919,1191 919.5,1190.5 922,1190.5 922.5,1190 923,1190 923.5,1187.5 931,1187.5 931.5,1188.5 936,1188.5 936.5,1189.5 940.5,1189.5 941,1190.5 941.5,1190.5 942,1186 949.5,1186 950,1188 956.5,1188 957,1191 957.5,1190.5 962,1190.5 962.5,1185.5 970,1185.5 970.5,1181.5 971.5,1181.5 972,1180 976.5,1180 977,1170.5 977.5,1170.5 978,1169.5 978.5,1169.5 979,1159.5 979.5,1159.5 980,1143 980.5,1143 981,1140 981.5,1140 982,1125 989.5,1125 990,1131.5 990.5,1131.5 991,1142.5 991.5,1142.5 992,1152.5 992.5,1152.5 993,1167 993.5,1167 994,1175 995.5,1175 996,1178.5 996.5,1178.5 997,1180.5 999,1180.5 999.5,1178 1000,1178 1000.5,1166.5 1001,1166.5 1001.5,1158 1002,1158 1002.5,1155 1003,1155 1003.5,1153.5 1004,1153.5 1004.5,1145.5 1005,1145.5 1005.5,1142.5 1013,1142.5 1013.5,1145.5 1014,1145.5 1014.5,1151.5 1015,1151.5 1015.5,1155.5 1016,1155.5 1016.5,1168.5 1017,1165 1017.5,1165 1018,1155.5 1018.5,1155.5 1019,1146 1019.5,1146 1020,1133 1020.5,1133 1021,1109 1021.5,1109 1022,1087 1022.5,1087 1023,1067 1023.5,1067 1024,1039 1024.5,1039 1025,1016 1025.5,1016 1026,1006 1034.5,1006 1035,1017.5 1035.5,1017.5 1036,1045.5 1036.5,1045.5 1037,1069.5 1038,1069.5 1038.5,1088.5 1039,1088.5 1039.5,1111 1040,1111 1040.5,1125.5 1041,1125.5 1041.5,1145 1042,1145 1042.5,1150 1043,1150 1043.5,1142 1044,1142 1044.5,1138.5 1045,1138.5 1045.5,1125 1053,1125 1053.5,1133.5 1054,1133.5 1054.5,1139.5 1055,1139.5 1055.5,1149 1056,1149 1056.5,1155.5 1057.5,1155.5 1058,1161 1058.5,1161 1059,1170.5 1059.5,1170.5 1060,1172 1061.5,1172 1062,1178.5 1062.5,1178.5 1063,1182.5 1063.5,1182.5 1064,1186 1065.5,1186 1066,1183 1073.5,1183 1074,1186.5 1079,1186.5 1079.5,1190 1081,1190 1081.5,1192 1084,1192 1084.5,1188.5 1092,1188.5 1092.5,1192.5 1098.5,1192.5 1099,1194.5 1102.5,1194.5 1103,1193 1109.5,1193 1110,1190 1112,1190 1112.5,1183 1113,1183 1113.5,1178 1115,1178 1115.5,1176.5 1116,1176.5 1116.5,1176 1124,1176 1124.5,1188.5 1125,1188.5 1125.5,1189 1126,1189 1126.5,1194.5 1127,1194.5 1127.5,1195.5 1128,1195.5 1128.5,1197 1129,1197 1129.5,1198 1130,1198 1130.5,1200 1135,1200 1135.5,1200.5 1138.5,1200.5 1139,1202 1139.5,1202 1140,1198.5 1152.5,1198.5 1153,1203 1162,1203 1162.5,1202 1170,1202 1170.5,1200 1178.5,1200 1179,1202 1180.5,1202 1181,1200.5 1181.5,1200.5 1182,1199 1183.5,1199 1184,1197 1184.5,1197 1185,1193.5 1192.5,1193.5 1193,1194.5 1193.5,1194.5 1194,1196.5 1195.5,1196.5 1196,1197.5 1197,1197.5 1197.5,1200 1203,1200 1203.5,1201.5 1204,1201.5 1204.5,1199.5 1212,1199.5 1212.5,1203.5 1217.5,1203.5 1218,1201.5 1219.5,1201.5 1220,1200 1227.5,1200 1228,1202.5 1235.5,1202.5 1236,1206.5 1236.5,1206 1237,1206 1237.5,1205 1240,1205 1240.5,1204.5 1244,1204.5 1244.5,1201.5 1252.5,1201.5 1253,1200.5 1258.5,1200.5 1259,1200 1262.5,1200 1263,1197 1270.5,1197 1271,1198 1271.5,1193.5 1273,1193.5 1273.5,1191 1275,1191 1275.5,1189.5 1276,1189.5 1276.5,1185.5 1277,1185.5 1277.5,1177 1278,1177 1278.5,1172 1279,1172 1279.5,1158 1280,1158 1280.5,1141 1281,1141 1281.5,1125 1282,1125 1282.5,1103.5 1283,1103.5 1283.5,1075.5 1284,1075.5 1284.5,1048 1285,1048 1285.5,1017 1286,1017 1286.5,983.5 1287,983.5 1287.5,963.5 1288,963.5 1288.5,958 1297.5,958 1298,972.5 1298.5,972.5 1299,997 1299.5,997 1300,1027.5 1300.5,1027.5 1301,1057 1301.5,1057 1302,1088 1302.5,1088 1303,1113 1303.5,1113 1304,1134.5 1304.5,1134.5 1305,1147.5 1305.5,1147.5 1306,1161.5 1306.5,1161.5 1307,1168.5 1307.5,1168.5 1308,1177.5 1308.5,1177.5 1309,1188 1309.5,1188 1310,1193.5 1310.5,1193.5 1311,1194.5 1313.5,1194.5 1314,1197.5 1320,1197.5 1320.5,1199 1327,1199 1327.5,1201.5 1328,1201.5 1328.5,1204 1334,1204 1334.5,1204.5 1335.5,1204.5 1336,1202.5 1343.5,1202.5 1344,1203.5 1346.5,1203.5 1347,1204.5 1348.5,1204.5 1349,1204 1356,1204 1356.5,1202 1357,1202 1357.5,1199.5 1365,1199.5 1365.5,1205 1366,1205 1366.5,1201.5 1374,1201.5 1374.5,1202.5 1375,1202.5 1375.5,1205 1379.5,1205 1380,1203.5 1381.5,1203.5 1382,1203 1387.5,1203 1388,1200.5 1401,1200.5 1401.5,1201.5 1406,1201.5 1406.5,1200.5 1411.5,1200.5 1412,1195.5 1417.5,1195.5 1418,1192.5 1419.5,1192.5 1420,1192 1422.5,1192 1423,1188 1425.5,1188 1426,1185.5 1426.5,1185.5 1427,1184.5 1427.5,1184.5 1428,1179.5 1428.5,1179.5 1429,1167 1430,1167 1430.5,1155.5 1431,1155.5 1431.5,1149 1432,1149 1432.5,1134 1433,1134 1433.5,1111.5 1434,1111.5 1434.5,1104.5 1435,1104.5 1435.5,1090.5 1436,1090.5 1436.5,1075 1437,1075 1437.5,1061 1438,1061 1438.5,1054 1439,1054 1439.5,1047.5 1447,1047.5 1447.5,1050 1448,1050 1448.5,1053.5 1449,1053.5 1449.5,1062 1450,1062 1450.5,1068.5 1451,1068.5 1451.5,1074.5 1454,1074.5 1454.5,1075 1455,1075 1455.5,1076.5 1456.5,1076.5 1457,1086 1457.5,1086 1458,1100.5 1458.5,1100.5 1459,1109.5 1459.5,1109.5 1460,1129.5 1460.5,1129.5 1461,1140 1461.5,1140 1462,1137.5 1462.5,1137.5 1463,1126 1463.5,1126 1464,1109 1464.5,1109 1465,1097 1465.5,1097 1466,1081 1466.5,1081 1467,1071.5 1467.5,1071.5 1468,1063.5 1476,1063.5 1476.5,1065 1477,1065 1477.5,1070.5 1478,1070.5 1478.5,1080 1479,1080 1479.5,1094.5 1480,1094.5 1480.5,1109 1481,1109 1481.5,1123 1482,1123 1482.5,1134 1483,1134 1483.5,1149 1484,1149 1484.5,1158 1485,1158 1485.5,1164 1486,1164 1486.5,1180 1487,1180 1487.5,1182 1488,1182 1488.5,1187 1489,1187 1489.5,1188 1490,1188 1490.5,1189 1493,1189 1493.5,1197.5 1504.5,1197.5 1505,1194.5 1506.5,1194.5 1507,1192.5 1510,1192.5 1510.5,1189.5 1518,1189.5 1518.5,1191.5 1519,1191.5 1519.5,1197.5 1521,1197.5 1521.5,1200.5 1528,1200.5 1528.5,1204.5 1532,1204.5 1532.5,1208 1533.5,1208 1534,1207.5 1541.5,1207.5 1542,1208.5 1546.5,1208.5 1547,1209.5 1548.5,1209.5 1549,1211 1550,1211 1550.5,1209 1551,1209 1551.5,1206 1559,1206 1559.5,1208 1563,1208 1563.5,1209 1564,1209 1564.5,1207.5 1572,1207.5 1572.5,1211 1573,1211 1573.5,1212 1574.5,1212 1575,1209 1582.5,1209 1583,1211.5 1587.5,1211.5 1588,1210.5 1595,1210.5 1595.5,1209.5 1603,1209.5 1603.5,1212 1615.5,1212 1616,1211 1631,1211 1631.5,1210 1635,1210 1635.5,1209 1638,1209 1638.5,1206.5 1641,1206.5 1641.5,1202 1643,1202 1643.5,1192.5 1644,1192.5 1644.5,1192 1645,1192 1645.5,1189.5 1646,1189.5 1646.5,1183 1647,1183 1647.5,1177.5 1648,1177.5 1648.5,1173 1649.5,1173 1650,1171 1650.5,1171 1651,1166.5 1652.5,1166.5 1653,1162 1656.5,1162 1657,1161 1657.5,1161 1658,1158.5 1658.5,1158.5 1659,1147 1659.5,1147 1660,1142 1660.5,1142 1661,1129.5 1661.5,1129.5 1662,1118.5 1662.5,1118.5 1663,1108 1663.5,1108 1664,1095.5 1664.5,1095.5 1665,1090.5 1673.5,1090.5 1674,1103 1674.5,1103 1675,1109 1676,1109 1676.5,1125 1677,1125 1677.5,1138.5 1678,1138.5 1678.5,1153 1679,1153 1679.5,1163 1680,1163 1680.5,1170 1681,1170 1681.5,1177.5 1682,1177.5 1682.5,1184 1683,1184 1683.5,1196 1684,1196 1684.5,1200 1685,1200 1685.5,1201 1686,1201 1686.5,1204 1687,1204 1687.5,1205.5 1688,1205.5 1688.5,1207.5 1691.5,1207.5 1692,1207 1695.5,1207 1696,1204.5 1699.5,1204.5 1700,1203.5 1707.5,1203.5 1708,1204.5 1710.5,1204.5 1711,1207.5 1711.5,1207.5 1712,1210 1717,1210 1717.5,1211 1724,1211 1724.5,1213.5 1727,1213.5 1727.5,1210 1735.5,1210 1736,1213 1744.5,1213 1745,1214.5 1747.5,1214.5 1748,1212.5 1756,1212.5 1756.5,1214.5 1759,1214.5 1759.5,1215.5 1761,1215.5 1761.5,1214.5 1771,1214.5 1771.5,1215 1773,1215 1773.5,1215.5 1774,1215.5 1774.5,1216 1775,1214.5 1775.5,1214.5 1776,1214 1776.5,1214 1777,1213.5 1782.5,1213.5 1783,1212 1790.5,1212 1791,1214 1793.5,1214 1794,1216 1799,1216 1799.5,1211.5 1807,1211.5 1807.5,1212 1808,1212 1808.5,1209 1809.5,1209 1810,1208.5 1811.5,1208.5 1812,1206.5 1812.5,1206.5 1813,1203.5 1813.5,1203.5 1814,1200 1815.5,1200 1816,1192 1816.5,1192 1817,1189 1817.5,1189 1818,1182.5 1818.5,1182.5 1819,1180.5 1819.5,1180.5 1820,1175.5 1821.5,1175.5 1822,1171 1822.5,1171 1823,1163 1830.5,1163 1831,1165 1831.5,1165 1832,1165.5 1833.5,1165.5 1834,1169.5 1835,1169.5 1835.5,1172.5 1836,1172.5 1836.5,1179 1837,1179 1837.5,1180.5 1838,1180.5 1838.5,1182.5 1839,1182.5 1839.5,1189.5 1840,1189.5 1840.5,1193 1841,1193 1841.5,1199 1842,1199 1842.5,1199.5 1843,1199.5 1843.5,1204 1844,1204 1844.5,1206.5 1846,1206.5 1846.5,1206 1847,1206 1847.5,1204 1848,1204 1848.5,1201.5 1849.5,1201.5 1850,1200 1850.5,1200 1851,1191.5 1851.5,1191.5 1852,1189.5 1852.5,1189.5 1853,1188 1853.5,1188 1854,1187 1854.5,1187 1855,1181 1855.5,1181 1856,1175 1857.5,1175 1858,1165.5 1865.5,1165.5 1866,1170.5 1866.5,1170.5 1867,1171 1868.5,1171 1869,1178.5 1870.5,1178.5 1871,1183 1871.5,1183 1872,1185.5 1872.5,1185.5 1873,1193.5 1875,1193.5 1875.5,1196 1876,1196 1876.5,1201.5 1877,1201.5 1877.5,1206 1878,1206 1878.5,1209 1879,1209 1879.5,1210.5 1883,1210.5 1883.5,1212.5 1885,1212.5 1885.5,1216.5 1888,1216.5 1888.5,1215.5 1891.5,1215.5 1892,1215 1899.5,1215 1900,1216.5 1905.5,1216.5 1906,1217.5 1911,1217.5 1911.5,1217 1917,1217 1917.5,1215.5 1925,1215.5 1925.5,1217.5 1929,1217.5 1929.5,1219 1931.5,1219 1932,1217 1939.5,1217 1940,1217.5 1944.5,1217.5 1945,1220 1945.5,1220 1946,1218 1951,1218 1951.5,1217.5 1956,1217.5 1956.5,1217 1963,1217 1963.5,1215.5 1968.5,1215.5 1969,1212.5 1972.5,1212.5 1973,1210 1973.5,1210 1974,1203 1975.5,1203 1976,1200.5 1976.5,1200.5 1977,1192 1977.5,1192 1978,1181 1978.5,1181 1979,1178 1979.5,1178 1980,1166.5 1980.5,1166.5 1981,1160 1981.5,1160 1982,1153 1982.5,1153 1983,1151.5 1983.5,1151.5 1984,1147.5 1991.5,1147.5 1992,1151 1992.5,1151 1993,1154 1993.5,1154 1994,1162.5 1995,1162.5 1995.5,1166 1996,1166 1996.5,1177.5 1997,1177.5 1997.5,1184 1998,1184 1998.5,1194.5 2001,1194.5 2001.5,1203 2003,1203 2003.5,1202 2004,1202 2004.5,1200 2006,1200 2006.5,1195.5 2014.5,1195.5 2015,1200.5 2015.5,1200.5 2016,1201 2016.5,1201 2017,1201.5 2018.5,1201.5 2019,1203.5 2021.5,1203.5 2022,1209 2022.5,1209 2023,1210 2023.5,1210 2024,1213 2025.5,1213 2026,1215.5 2029.5,1215.5 2030,1220 2037,1220 2037.5,1220.5 2042,1220.5 2042.5,1221.5 2044,1221.5 2044.5,1222 2045,1222 2045.5,1223 2049,1223 2049.5,1225 2053.5,1225 2054,1224.5 2058.5,1224.5 2059,1223 2066.5,1223 2067,1224.5 2072,1224.5 2072.5,1224 2080,1224 2080.5,1224.5 2083,1224.5 2083.5,1225.5 2090,1225.5 2090.5,1227.5 2092.5,1227.5 2093,1226.5 2098.5,1226.5 2099,1226 2106.5,1226 2107,1227 2114,1227 2114,1237.5 2107,1237.5 2106.5,1234.5 2102,1234.5 2101.5,1235.5 2100,1235.5 2099.5,1236 2099,1236 2098.5,1238.5 2091.5,1238.5 2091,1239 2083.5,1239 2083,1234 2082.5,1234 2082,1236 2074.5,1236 2074,1235 2071.5,1235 2071,1234.5 2068,1234.5 2067.5,1234 2065,1234 2064.5,1233.5 2062,1233.5 2061.5,1232.5 2061,1232.5 2060.5,1235 2057,1235 2056.5,1236 2049,1236 2048.5,1234 2045.5,1234 2045,1233.5 2044.5,1233.5 2044,1233 2033.5,1233 2033,1230.5 2032.5,1230.5 2032,1228.5 2031.5,1231 2024,1231 2023.5,1227.5 2023,1227.5 2022.5,1224.5 2020,1224.5 2019.5,1224 2019,1224 2018.5,1221.5 2017,1221.5 2016.5,1216 2016,1216 2015.5,1215 2015,1215 2014.5,1214 2012,1214 2011.5,1209 2010.5,1209 2010,1212.5 2008.5,1212.5 2008,1213 2007.5,1213 2007,1213.5 2006.5,1213.5 2006,1214.5 2003.5,1214.5 2003,1215 1995.5,1215 1995,1210 1994.5,1210 1994,1204 1992.5,1204 1992,1201 1991.5,1201 1991,1190 1990.5,1190 1990,1183.5 1989.5,1183.5 1989,1172 1988,1172 1987.5,1172.5 1987,1172.5 1986.5,1184 1986,1184 1985.5,1187 1985,1187 1984.5,1198 1984,1198 1983.5,1206.5 1983,1206.5 1982.5,1210 1981,1210 1980.5,1216 1980,1216 1979.5,1218.5 1979,1218.5 1978.5,1226 1971,1226 1970.5,1224 1967.5,1224 1967,1225 1966.5,1225 1966,1226.5 1965.5,1226.5 1965,1228 1963.5,1228 1963,1229.5 1954.5,1229.5 1954,1228 1953,1228 1952.5,1228.5 1952,1228.5 1951.5,1231 1938,1231 1937.5,1230 1936,1230 1935.5,1228.5 1933,1228.5 1932.5,1228 1931.5,1228 1931,1229 1923.5,1229 1923,1228 1920.5,1228 1920,1227.5 1916.5,1227.5 1916,1230 1908,1230 1907.5,1229 1905,1229 1904.5,1231.5 1897,1231.5 1896.5,1228.5 1891,1228.5 1890.5,1225 1890,1226 1888.5,1226 1888,1226.5 1880.5,1226.5 1880,1223.5 1879.5,1223.5 1879,1223 1878.5,1223 1878,1219.5 1872.5,1219.5 1872,1215 1871.5,1215 1871,1212 1870.5,1212 1870,1207.5 1869.5,1207.5 1869,1202 1868,1202 1867.5,1199.5 1866,1199.5 1865.5,1191.5 1865,1191.5 1864.5,1189 1864,1189 1863.5,1184.5 1863,1184.5 1862.5,1187 1862,1187 1861.5,1193 1861,1193 1860.5,1194 1860,1194 1859.5,1195.5 1859,1195.5 1858.5,1197.5 1858,1197.5 1857.5,1206 1857,1206 1856.5,1207.5 1856,1207.5 1855.5,1210 1854.5,1210 1854,1212 1853.5,1212 1853,1215 1851.5,1215 1851,1215.5 1842.5,1215.5 1842,1214 1837.5,1214 1837,1210 1836.5,1210 1836,1205.5 1835.5,1205.5 1835,1205 1834.5,1205 1834,1199 1833.5,1199 1833,1195.5 1832.5,1195.5 1832,1188.5 1831.5,1188.5 1831,1186.5 1830.5,1186.5 1830,1185 1829.5,1185 1829,1178.5 1828.5,1186.5 1826,1186.5 1825.5,1188.5 1825,1188.5 1824.5,1195 1824,1195 1823.5,1198 1823,1198 1822.5,1206.5 1821,1206.5 1820.5,1209.5 1820,1209.5 1819.5,1212.5 1819,1212.5 1818.5,1215 1816,1215 1815.5,1218 1814.5,1218 1814,1221.5 1812.5,1221.5 1812,1222.5 1809.5,1222.5 1809,1224 1808.5,1224 1808,1225 1800.5,1225 1800,1224.5 1793,1224.5 1792.5,1225.5 1790,1225.5 1789.5,1227 1782,1227 1781.5,1224 1778,1224 1777.5,1226 1770,1226 1769.5,1224 1762.5,1224 1762,1229.5 1754.5,1229.5 1754,1224 1753.5,1226.5 1749,1226.5 1748.5,1227 1743,1227 1742.5,1227.5 1735,1227.5 1734.5,1225 1731,1225 1730.5,1223 1728.5,1223 1728,1229 1720.5,1229 1720,1225 1719.5,1225 1719,1226 1711.5,1226 1711,1220.5 1710.5,1220.5 1710,1218 1707,1218 1706.5,1216.5 1705,1216.5 1704.5,1213.5 1704,1213.5 1703.5,1213 1703,1213 1702.5,1213.5 1702,1213.5 1701.5,1214 1701,1214 1700.5,1219 1686.5,1219 1686,1218 1681.5,1218 1681,1211.5 1680.5,1211.5 1680,1210 1679.5,1210 1679,1207 1678.5,1207 1678,1206 1677.5,1206 1677,1202 1676.5,1202 1676,1190 1675.5,1190 1675,1183.5 1674.5,1183.5 1674,1176 1673.5,1176 1673,1169 1672.5,1169 1672,1159 1671.5,1159 1671,1144.5 1670.5,1144.5 1670,1131 1669,1131 1668.5,1135.5 1668,1135.5 1667.5,1148 1667,1148 1666.5,1153 1666,1153 1665.5,1164.5 1665,1164.5 1664.5,1167 1664,1167 1663.5,1173.5 1663,1173.5 1662.5,1174.5 1662,1174.5 1661.5,1175 1658,1175 1657.5,1177 1657,1177 1656.5,1179 1656,1179 1655.5,1183.5 1654.5,1183.5 1654,1189 1653.5,1189 1653,1195.5 1652.5,1195.5 1652,1198 1651.5,1198 1651,1198.5 1650.5,1198.5 1650,1210 1648.5,1210 1648,1213 1647.5,1213 1647,1214 1645.5,1214 1645,1217 1644.5,1217 1644,1221 1637.5,1221 1637,1221.5 1636.5,1221.5 1636,1222 1633,1222 1632.5,1222.5 1625,1222.5 1624.5,1222 1623,1222 1622.5,1224.5 1615,1224.5 1614.5,1223.5 1612,1223.5 1611.5,1223 1611,1224 1602.5,1224 1602,1222 1599.5,1222 1599,1223.5 1595,1223.5 1594.5,1224 1587,1224 1586.5,1221.5 1578,1221.5 1577.5,1223.5 1571.5,1223.5 1571,1224 1563.5,1224 1563,1220 1559.5,1220 1559,1219 1554,1219 1553.5,1220 1546,1220 1545.5,1221.5 1538,1221.5 1537.5,1218.5 1536,1218.5 1535.5,1217 1531.5,1217 1531,1218 1523.5,1218 1523,1215.5 1522.5,1215.5 1522,1214 1515.5,1214 1515,1208 1514.5,1208 1514,1205 1512.5,1205 1512,1202 1511.5,1206 1511,1206 1510.5,1207 1508,1207 1507.5,1208.5 1506,1208.5 1505.5,1209 1504,1209 1503.5,1209.5 1501,1209.5 1500.5,1211.5 1493,1211.5 1492.5,1208.5 1491,1208.5 1490.5,1205.5 1486.5,1205.5 1486,1200.5 1483.5,1200.5 1483,1194 1482.5,1194 1482,1193 1481.5,1193 1481,1188 1480.5,1188 1480,1186 1479.5,1186 1479,1170 1478.5,1170 1478,1164 1477.5,1164 1477,1155 1476.5,1155 1476,1140 1475.5,1140 1475,1129 1474.5,1129 1474,1115 1473.5,1115 1473,1100.5 1472.5,1103 1472,1103 1471.5,1115 1471,1115 1470.5,1132 1470,1132 1469.5,1143.5 1469,1143.5 1468.5,1151.5 1468,1151.5 1467.5,1154.5 1467,1154.5 1466.5,1165.5 1458,1165.5 1457.5,1164 1457,1164 1456.5,1161.5 1456,1161.5 1455.5,1161 1455,1161 1454.5,1146 1454,1146 1453.5,1135.5 1453,1135.5 1452.5,1115.5 1452,1115.5 1451.5,1106.5 1451,1106.5 1450.5,1092 1449.5,1092 1449,1083.5 1445.5,1083.5 1445,1081 1443.5,1081 1443,1096.5 1442.5,1096.5 1442,1110.5 1441.5,1110.5 1441,1117.5 1440.5,1117.5 1440,1140 1439.5,1140 1439,1155 1438.5,1155 1438,1161.5 1437.5,1161.5 1437,1173 1436.5,1173 1436,1185.5 1435,1185.5 1434.5,1190.5 1434,1190.5 1433.5,1191.5 1433,1191.5 1432.5,1197.5 1432,1197.5 1431.5,1199.5 1429,1199.5 1428.5,1201.5 1427,1201.5 1426.5,1207 1422,1207 1421.5,1209 1419,1209 1418.5,1210.5 1412.5,1210.5 1412,1211 1411.5,1211 1411,1212 1405.5,1212 1405,1218 1397.5,1218 1397,1215.5 1392.5,1215.5 1392,1213 1391,1213 1390.5,1214 1387,1214 1386.5,1216 1373,1216 1372.5,1215 1372,1215.5 1368.5,1215.5 1368,1216 1360.5,1216 1360,1215 1358.5,1215 1358,1213.5 1355.5,1213.5 1355,1213 1354,1213 1353.5,1215.5 1341,1215.5 1340.5,1220.5 1333,1220.5 1332.5,1217 1324.5,1217 1324,1213.5 1316.5,1213.5 1316,1210.5 1308,1210.5 1307.5,1207.5 1307,1207.5 1306.5,1203 1305,1203 1304.5,1202.5 1304,1202.5 1303.5,1199.5 1303,1199.5 1302.5,1194 1302,1194 1301.5,1183.5 1301,1183.5 1300.5,1174.5 1300,1174.5 1299.5,1167.5 1299,1167.5 1298.5,1153.5 1298,1153.5 1297.5,1140.5 1297,1140.5 1296.5,1119 1296,1119 1295.5,1094 1295,1094 1294.5,1063 1294,1063 1293.5,1033.5 1293,1033.5 1292.5,1023 1292,1054 1291.5,1054 1291,1081.5 1290.5,1081.5 1290,1109.5 1289.5,1109.5 1289,1131 1288.5,1131 1288,1147 1287.5,1147 1287,1164 1286.5,1164 1286,1178 1285.5,1178 1285,1183 1284.5,1183 1284,1191.5 1283.5,1191.5 1283,1195.5 1282.5,1195.5 1282,1200.5 1280.5,1200.5 1280,1202 1278.5,1202 1278,1204 1277.5,1204 1277,1209.5 1276,1209.5 1275.5,1211 1275,1211 1274.5,1211.5 1267,1211.5 1266.5,1210.5 1265,1210.5 1264.5,1211.5 1264,1211.5 1263.5,1212 1259,1212 1258.5,1212.5 1258,1212.5 1257.5,1215.5 1250.5,1215.5 1250,1216 1246.5,1216 1246,1216.5 1239.5,1216.5 1239,1217 1231.5,1217 1231,1214.5 1225,1214.5 1224.5,1213.5 1224,1213.5 1223.5,1217 1216,1217 1215.5,1213 1215,1215 1207.5,1215 1207,1214 1202.5,1214 1202,1215.5 1193.5,1215.5 1193,1210 1190,1210 1189.5,1206 1189,1206 1188.5,1206.5 1188,1206.5 1187.5,1210.5 1184,1210.5 1183.5,1217.5 1176,1217.5 1175.5,1213 1175,1213.5 1174.5,1213.5 1174,1214 1168.5,1214 1168,1217 1160.5,1217 1160,1214 1158.5,1214 1158,1213.5 1151.5,1213.5 1151,1212.5 1150,1212.5 1149.5,1215 1142,1215 1141.5,1213.5 1139,1213.5 1138.5,1212.5 1134,1212.5 1133.5,1212 1132,1212 1131.5,1210.5 1128.5,1210.5 1128,1210 1125.5,1210 1125,1207 1123.5,1207 1123,1204 1122.5,1204 1122,1203 1121.5,1203 1121,1201.5 1120.5,1201.5 1120,1200.5 1119.5,1200.5 1119,1196 1117.5,1196 1117,1205 1116,1205 1115.5,1205.5 1115,1205.5 1114.5,1206.5 1113,1206.5 1112.5,1209 1105,1209 1104.5,1208.5 1097,1208.5 1096.5,1208 1093,1208 1092.5,1207.5 1089.5,1207.5 1089,1205.5 1087.5,1205.5 1087,1205 1079.5,1205 1079,1204 1075.5,1204 1075,1202 1068,1202 1067.5,1198.5 1064,1198.5 1063.5,1197 1062,1197 1061.5,1196 1061,1196 1060.5,1195 1059,1195 1058.5,1192 1057,1192 1056.5,1188.5 1056,1188.5 1055.5,1184.5 1055,1184.5 1054.5,1181 1053,1181 1052.5,1176.5 1052,1176.5 1051.5,1167 1050.5,1167 1050,1161.5 1049.5,1161.5 1049,1159 1048.5,1159 1048,1164 1047.5,1164 1047,1169.5 1046.5,1169.5 1046,1172.5 1038.5,1172.5 1038,1163.5 1037.5,1163.5 1037,1162.5 1036.5,1162.5 1036,1156 1035.5,1156 1035,1151 1034.5,1151 1034,1131.5 1033.5,1131.5 1033,1117 1032.5,1117 1032,1094.5 1031,1094.5 1030.5,1075.5 1030,1075.5 1029.5,1093 1029,1093 1028.5,1115 1028,1115 1027.5,1139 1027,1139 1026.5,1152 1026,1152 1025.5,1161.5 1025,1161.5 1024.5,1171 1024,1171 1023.5,1174.5 1023,1174.5 1022.5,1177 1022,1177 1021.5,1177.5 1014,1177.5 1013.5,1176 1012,1176 1011.5,1175 1010.5,1175 1010,1174.5 1009.5,1174.5 1009,1164 1008.5,1164 1008,1172.5 1007.5,1172.5 1007,1184 1006.5,1184 1006,1188.5 1005.5,1188.5 1005,1191.5 1003.5,1191.5 1003,1192.5 1002.5,1192.5 1002,1194.5 994.5,1194.5 994,1192 992.5,1192 992,1190 991,1190 990.5,1188.5 990,1188.5 989.5,1184.5 989,1184.5 988.5,1181 987,1181 986.5,1173 986,1173 985.5,1175.5 985,1175.5 984.5,1176.5 984,1176.5 983.5,1186.5 983,1186.5 982.5,1192 981,1192 980.5,1192.5 978,1192.5 977.5,1198 971.5,1198 971,1198.5 968.5,1198.5 968,1205 960.5,1205 960,1204 952.5,1204 952,1201 951,1201 950.5,1203 943,1203 942.5,1201 937,1201 936.5,1200.5 934.5,1200.5 934,1203 926.5,1203 926,1202 923.5,1202 923,1202.5 915.5,1202.5 915,1201 912.5,1201 912,1200.5 911.5,1201 904,1201 903.5,1200.5 892.5,1200.5 892,1203 884.5,1203 884,1198.5 879.5,1198.5 879,1195.5 877.5,1195.5 877,1195 876,1195 875.5,1202.5 868,1202.5 867.5,1199.5 864,1199.5 863.5,1198 857,1198 856.5,1196.5 853,1196.5 852.5,1196 852,1199.5 844.5,1199.5 844,1194.5 836.5,1194.5 836,1193.5 833,1193.5 832.5,1194 826,1194 825.5,1197.5 818,1197.5 817.5,1194.5 811.5,1194.5 811,1193 810.5,1193 810,1192.5 804.5,1192.5 804,1191.5 803.5,1191.5 803,1193 795.5,1193 795,1192.5 790,1192.5 789.5,1191 787,1191 786.5,1190 780,1190 779.5,1187 779,1187 778.5,1186 773,1186 772.5,1183 769.5,1183 769,1175.5 768.5,1175.5 768,1167 767.5,1167 767,1158.5 766.5,1158.5 766,1141 765.5,1141 765,1126 764.5,1126 764,1108.5 763.5,1108.5 763,1127.5 762.5,1127.5 762,1151 761.5,1151 761,1157 760.5,1157 760,1163 759.5,1163 759,1171 757,1171 756.5,1175.5 749,1175.5 748.5,1175 745,1175 744.5,1172.5 740,1172.5 739.5,1171 737,1171 736.5,1167.5 735,1167.5 734.5,1164.5 733,1164.5 732.5,1159 731.5,1159 731,1158 730.5,1158 730,1154 729.5,1154 729,1153.5 728.5,1153.5 728,1145 727.5,1145 727,1140.5 726.5,1140.5 726,1130 725.5,1130 725,1129 724.5,1129 724,1122.5 723.5,1122.5 723,1119 722.5,1119 722,1109 721.5,1109 721,1099.5 720.5,1099.5 720,1080.5 719.5,1080.5 719,1070.5 718.5,1070.5 718,1052.5 717.5,1052.5 717,1018 716.5,1018 716,983 715.5,983 715,938.5 714.5,938.5 714,886 713.5,886 713,806 712.5,806 712,712 711,712 710.5,601.5 710,601.5 709.5,475 709,475 708.5,538 708,538 707.5,657.5 707,657.5 706.5,763.5 706,763.5 705.5,841 705,841 704.5,908.5 704,908.5 703.5,962.5 703,962.5 702.5,1001.5 702,1001.5 701.5,1033 701,1033 700.5,1058.5 700,1058.5 699.5,1074 699,1074 698.5,1092 697.5,1092 697,1102.5 696.5,1102.5 696,1109.5 695.5,1109.5 695,1124 694.5,1124 694,1126.5 693.5,1126.5 693,1141.5 692.5,1141.5 692,1144 689.5,1144 689,1159 684.5,1159 684,1161 682.5,1161 682,1172.5 675,1172.5 674.5,1174.5 671,1174.5 670.5,1175.5 670,1175.5 669.5,1179.5 666,1179.5 665.5,1183 658,1183 657.5,1180 654.5,1180 654,1186 646.5,1186 646,1178.5 644.5,1178.5 644,1186 633.5,1186 633,1181 629,1181 628.5,1185 621,1185 620.5,1182.5 613,1182.5 612.5,1182 605.5,1182 605,1179 604.5,1179 604,1179.5 600.5,1179.5 600,1180 592,1180 591.5,1181 584,1181 583.5,1179 579,1179 578.5,1177 577,1177 576.5,1176.5 575.5,1176.5 575,1179.5 567.5,1179.5 567,1178.5 565.5,1178.5 565,1179.5 557.5,1179.5 557,1172.5 556.5,1175 549,1175 548.5,1172.5 542,1172.5 541.5,1171 535,1171 534.5,1169 533.5,1169 533,1169.5 528.5,1169.5 528,1170 525.5,1170 525,1171.5 517.5,1171.5 517,1167.5 513.5,1167.5 513,1165.5 510,1165.5 509.5,1164.5 507,1164.5 506.5,1165 506,1165 505.5,1170.5 498,1170.5 497.5,1170 494,1170 493.5,1164.5 490.5,1164.5 490,1165 482.5,1165 482,1163 474.5,1163 474,1162.5 471,1162.5 470.5,1161.5 468,1161.5 467.5,1164 460,1164 459.5,1158.5 458.5,1158.5 458,1159 453.5,1159 453,1159.5 445.5,1159.5 445,1157.5 438.5,1157.5 438,1155.5 437,1155.5 436.5,1156.5 429,1156.5 428.5,1151.5 427,1151.5 426.5,1150.5 426,1150.5 425.5,1151 423,1151 422.5,1156 415,1156 414.5,1152 409.5,1152 409,1151.5 399.5,1151.5 399,1147.5 392,1147.5 391.5,1147 391,1147 390.5,1148.5 383,1148.5 382.5,1147 382,1147 381.5,1146 378,1146 377.5,1143.5 377,1143.5 376.5,1139.5 375,1139.5 374.5,1139 374,1140 368.5,1140 368,1144 360.5,1144 360,1138 359.5,1138 359,1137.5 354.5,1137.5 354,1136.5 353.5,1139 342,1139 341.5,1135.5 340,1135.5 339.5,1134.5 338,1134.5 337.5,1134 337,1134 336.5,1133.5 335,1133.5 334.5,1132.5 334,1133.5 332.5,1133.5 332,1137 324.5,1137 324,1133.5 319.5,1133.5 319,1132.5 317.5,1132.5 317,1127 313,1127"/><polygon fill="#00c000" points="313,1125.5 321,1125.5 321.5,1126 322,1126 322.5,1126.5 330,1126.5 330.5,1130 332,1130 332.5,1130.5 336,1130.5 336.5,1131.5 339.5,1131.5 340,1133 350.5,1133 351,1134 357.5,1134 358,1134.5 363,1134.5 363.5,1135 371,1135 371.5,1137.5 375,1137.5 375.5,1139 378,1139 378.5,1139.5 382.5,1139.5 383,1141 383.5,1141 384,1140 388.5,1140 389,1138.5 396.5,1138.5 397,1141.5 403,1141.5 403.5,1142 404,1142 404.5,1140.5 412,1140.5 412.5,1142.5 416,1142.5 416.5,1147 417,1147 417.5,1147.5 419.5,1147.5 420,1148 421.5,1148 422,1146 426.5,1146 427,1144 431.5,1144 432,1143 440,1143 440.5,1149.5 448,1149.5 448.5,1150 450,1150 450.5,1151.5 451,1151.5 451.5,1150 459.5,1150 460,1151.5 461.5,1151.5 462,1155.5 466.5,1155.5 467,1153.5 470.5,1153.5 471,1151 482,1151 482.5,1156.5 487,1156.5 487.5,1157.5 488,1157.5 488.5,1157 496,1157 496.5,1159 499.5,1159 500,1158 507.5,1158 508,1161 508.5,1161 509,1158 514,1158 514.5,1157 522,1157 522.5,1160.5 528,1160.5 528.5,1161 531,1161 531.5,1162.5 533.5,1162.5 534,1160 541.5,1160 542,1162.5 542.5,1162.5 543,1163.5 544.5,1163.5 545,1166 547.5,1166 548,1164.5 548.5,1164.5 549,1162 556.5,1162 557,1164 559,1164 559.5,1166.5 564,1166.5 564.5,1166 565,1166 565.5,1164 573,1164 573.5,1167 574,1164 581.5,1164 582,1166.5 588.5,1166.5 589,1168 593.5,1168 594,1170.5 596.5,1170.5 597,1171 599,1171 599.5,1170 605,1170 605.5,1169.5 613,1169.5 613.5,1173 614.5,1173 615,1171 622.5,1171 623,1164.5 630.5,1164.5 631,1174.5 631.5,1174.5 632,1171 635,1171 635.5,1167 643,1167 643.5,1173 644,1173 644.5,1167.5 652,1167.5 652.5,1169 659.5,1169 660,1169.5 660.5,1169.5 661,1168.5 667.5,1168.5 668,1166 670.5,1166 671,1163 675,1163 675.5,1162 676,1162 676.5,1158 677,1158 677.5,1153 678,1153 678.5,1150.5 679,1150.5 679.5,1149.5 682,1149.5 682.5,1143.5 683,1143.5 683.5,1141.5 684,1141.5 684.5,1134.5 685,1134.5 685.5,1133 686,1133 686.5,1126.5 687,1126.5 687.5,1125.5 688,1125.5 688.5,1112 689,1112 689.5,1106 690,1106 690.5,1093 691,1093 691.5,1079.5 692.5,1079.5 693,1064.5 693.5,1064.5 694,1042 694.5,1042 695,1015.5 695.5,1015.5 696,977 696.5,977 697,930.5 697.5,930.5 698,873 698.5,873 699,796 699.5,796 700,694.5 700.5,694.5 701,586.5 701.5,586.5 702,455.5 702.5,455.5 703,323.5 703.5,323.5 704,206 704.5,206 705,125 705.5,125 706,105 713.5,105 714,156.5 714.5,156.5 715,260 715.5,260 716,395.5 716.5,395.5 717,526 718,526 718.5,645.5 719,645.5 719.5,745 720,745 720.5,842.5 721,842.5 721.5,903.5 722,903.5 722.5,960 723,960 723.5,998.5 724,998.5 724.5,1033 725,1033 725.5,1054.5 726,1054.5 726.5,1070 727,1070 727.5,1088.5 728,1088.5 728.5,1100 729,1100 729.5,1110 730,1110 730.5,1121.5 731,1121.5 731.5,1124.5 732,1124.5 732.5,1132.5 733,1132.5 733.5,1139 734,1139 734.5,1141.5 735,1141.5 735.5,1146 736,1146 736.5,1146.5 737,1146.5 737.5,1151.5 738.5,1151.5 739,1152.5 740.5,1152.5 741,1156 741.5,1156 742,1157 742.5,1157 743,1160.5 743.5,1160.5 744,1164 744.5,1164 745,1164.5 747.5,1164.5 748,1167.5 748.5,1167.5 749,1169.5 750.5,1169.5 751,1165 752,1165 752.5,1158.5 754,1158.5 754.5,1146.5 755,1146.5 755.5,1139 756,1139 756.5,1116 757,1116 757.5,1083.5 758,1083.5 758.5,1049 759,1049 759.5,1004.5 760,1004.5 760.5,985.5 768,985.5 768.5,997 769,997 769.5,1027.5 770,1027.5 770.5,1070.5 771,1070.5 771.5,1103 772,1103 772.5,1127.5 773,1127.5 773.5,1153.5 774,1153.5 774.5,1161.5 775,1161.5 775.5,1167 776,1167 776.5,1169 777,1169 777.5,1171 778.5,1171 779,1177.5 785.5,1177.5 786,1178.5 792.5,1178.5 793,1181.5 799,1181.5 799.5,1183.5 805,1183.5 805.5,1185 813,1185 813.5,1185.5 825.5,1185.5 826,1186 829.5,1186 830,1187.5 830.5,1187.5 831,1188.5 832,1188.5 832.5,1188 835,1188 835.5,1187.5 842,1187.5 842.5,1187 850,1187 850.5,1187.5 855,1187.5 855.5,1188 856,1188 856.5,1188.5 862.5,1188.5 863,1190 864.5,1190 865,1189 872.5,1189 873,1189.5 879,1189.5 879.5,1189 887,1189 887.5,1191 891,1191 891.5,1191.5 894,1191.5 894.5,1192.5 897.5,1192.5 898,1188.5 905.5,1188.5 906,1190 910.5,1190 911,1189.5 919,1189.5 919.5,1191 921,1191 921.5,1188 929,1188 929.5,1189.5 933.5,1189.5 934,1188.5 941.5,1188.5 942,1189 943.5,1189 944,1189.5 949.5,1189.5 950,1190 953,1190 953.5,1188.5 965,1188.5 965.5,1189.5 966,1189.5 966.5,1188 970,1188 970.5,1186.5 971.5,1186.5 972,1181 974.5,1181 975,1178.5 976.5,1178.5 977,1177.5 977.5,1177.5 978,1167.5 978.5,1167.5 979,1153.5 979.5,1153.5 980,1134 980.5,1134 981,1127.5 981.5,1127.5 982,1120 989.5,1120 990,1128.5 990.5,1128.5 991,1145.5 991.5,1145.5 992,1157.5 992.5,1157.5 993,1159.5 993.5,1159.5 994,1170 994.5,1170 995,1175.5 996.5,1175.5 997,1177 997.5,1174.5 999,1174.5 999.5,1168 1000,1168 1000.5,1164.5 1001,1164.5 1001.5,1159.5 1002,1159.5 1002.5,1153 1003,1153 1003.5,1143 1005,1143 1005.5,1137.5 1013,1137.5 1013.5,1140.5 1014,1140.5 1014.5,1143.5 1015,1143.5 1015.5,1153.5 1017.5,1153.5 1018,1157.5 1018.5,1157.5 1019,1147.5 1019.5,1147.5 1020,1130.5 1020.5,1130.5 1021,1117 1021.5,1117 1022,1096.5 1022.5,1096.5 1023,1071 1023.5,1071 1024,1045 1024.5,1045 1025,1016.5 1025.5,1016.5 1026,997 1026.5,997 1027,993 1034.5,993 1035,999 1035.5,999 1036,1012.5 1036.5,1012.5 1037,1043 1038,1043 1038.5,1072 1039,1072 1039.5,1091 1040,1091 1040.5,1117 1041,1117 1041.5,1136.5 1042,1136.5 1042.5,1144 1043,1144 1043.5,1134.5 1044,1134.5 1044.5,1133.5 1045,1133.5 1045.5,1131 1046,1131 1046.5,1126 1054,1126 1054.5,1138.5 1055,1138.5 1055.5,1141.5 1056,1141.5 1056.5,1150.5 1057.5,1150.5 1058,1162 1058.5,1162 1059,1172 1059.5,1172 1060,1172.5 1060.5,1172.5 1061,1176 1061.5,1176 1062,1178 1062.5,1178 1063,1181 1064.5,1181 1065,1182 1065.5,1182 1066,1183.5 1067.5,1183.5 1068,1185.5 1071.5,1185.5 1072,1188 1072.5,1188 1073,1191.5 1074.5,1191.5 1075,1192 1080,1192 1080.5,1194 1085,1194 1085.5,1195.5 1097.5,1195.5 1098,1197 1100.5,1197 1101,1198.5 1108.5,1198.5 1109,1200 1109.5,1200 1110,1197 1111,1197 1111.5,1191.5 1112,1191.5 1112.5,1186 1113,1186 1113.5,1175 1114,1175 1114.5,1172.5 1116,1172.5 1116.5,1169.5 1124,1169.5 1124.5,1185 1125,1185 1125.5,1192 1127,1192 1127.5,1196 1128,1196 1128.5,1201.5 1132,1201.5 1132.5,1202.5 1133,1201 1140.5,1201 1141,1202 1141.5,1202 1142,1204 1142.5,1204 1143,1205 1149.5,1205 1150,1204 1154,1204 1154.5,1202 1162,1202 1162.5,1205 1165,1205 1165.5,1206 1166,1206 1166.5,1205 1170,1205 1170.5,1200.5 1178.5,1200.5 1179,1201.5 1182.5,1201.5 1183,1196 1185.5,1196 1186,1194 1193.5,1194 1194,1196.5 1197,1196.5 1197.5,1198.5 1199,1198.5 1199.5,1202 1203,1202 1203.5,1204 1204,1204 1204.5,1204.5 1206,1204.5 1206.5,1202 1214,1202 1214.5,1205 1221.5,1205 1222,1204 1231,1204 1231.5,1202 1233,1202 1233.5,1201 1245,1201 1245.5,1205.5 1247,1205.5 1247.5,1203 1255,1203 1255.5,1204 1258.5,1204 1259,1202.5 1265.5,1202.5 1266,1199 1266.5,1199 1267,1198 1269.5,1198 1270,1197.5 1271,1197.5 1271.5,1197 1273,1197 1273.5,1191 1274,1191 1274.5,1190.5 1275,1190.5 1275.5,1189 1276,1189 1276.5,1180.5 1277,1180.5 1277.5,1176 1278,1176 1278.5,1168 1279,1168 1279.5,1156.5 1280,1156.5 1280.5,1143 1281,1143 1281.5,1128.5 1282,1128.5 1282.5,1102 1283,1102 1283.5,1070 1284,1070 1284.5,1040.5 1285,1040.5 1285.5,1002.5 1286,1002.5 1286.5,965.5 1287,965.5 1287.5,932.5 1288,932.5 1288.5,913 1289,913 1289.5,909.5 1297.5,909.5 1298,924.5 1298.5,924.5 1299,948 1299.5,948 1300,983 1300.5,983 1301,1021.5 1301.5,1021.5 1302,1053 1302.5,1053 1303,1086.5 1303.5,1086.5 1304,1116 1304.5,1116 1305,1133 1305.5,1133 1306,1153 1306.5,1153 1307,1164 1307.5,1164 1308,1178 1308.5,1178 1309,1181.5 1309.5,1181.5 1310,1188.5 1310.5,1188.5 1311,1189.5 1313.5,1189.5 1314,1196.5 1317,1196.5 1317.5,1199.5 1319,1199.5 1319.5,1201.5 1321,1201.5 1321.5,1202 1323,1202 1323.5,1203.5 1328,1203.5 1328.5,1204.5 1329,1204.5 1329.5,1205 1330,1205 1330.5,1206 1335.5,1206 1336,1203 1343.5,1203 1344,1207 1347.5,1207 1348,1203.5 1355.5,1203.5 1356,1206 1360,1206 1360.5,1204 1368,1204 1368.5,1206 1370.5,1206 1371,1205.5 1378.5,1205.5 1379,1206 1379.5,1206 1380,1208 1384.5,1208 1385,1207.5 1394,1207.5 1394.5,1206.5 1401,1206.5 1401.5,1203.5 1410.5,1203.5 1411,1199.5 1418.5,1199.5 1419,1200 1419.5,1200 1420,1199 1420.5,1199 1421,1198.5 1421.5,1198.5 1422,1194.5 1424.5,1194.5 1425,1193.5 1425.5,1193.5 1426,1189 1426.5,1189 1427,1185.5 1427.5,1185.5 1428,1182.5 1428.5,1182.5 1429,1172.5 1430,1172.5 1430.5,1164 1431,1164 1431.5,1153.5 1432,1153.5 1432.5,1141 1433,1141 1433.5,1121.5 1434,1121.5 1434.5,1107 1435,1107 1435.5,1089 1436,1089 1436.5,1075 1437,1075 1437.5,1060 1438,1060 1438.5,1045.5 1439,1045.5 1439.5,1036.5 1440,1036.5 1440.5,1035.5 1448,1035.5 1448.5,1037 1449,1037 1449.5,1038.5 1450,1038.5 1450.5,1040.5 1455,1040.5 1455.5,1047 1456.5,1047 1457,1056 1457.5,1056 1458,1072 1458.5,1072 1459,1095 1459.5,1095 1460,1117.5 1460.5,1117.5 1461,1134 1461.5,1134 1462,1130 1462.5,1130 1463,1116.5 1463.5,1116.5 1464,1104 1464.5,1104 1465,1085.5 1465.5,1085.5 1466,1067.5 1466.5,1067.5 1467,1051.5 1467.5,1051.5 1468,1043 1470,1043 1470.5,1041 1478,1041 1478.5,1049 1479,1049 1479.5,1061 1480,1061 1480.5,1079 1481,1079 1481.5,1093.5 1482,1093.5 1482.5,1113.5 1483,1113.5 1483.5,1130 1484,1130 1484.5,1145 1485,1145 1485.5,1162.5 1486,1162.5 1486.5,1168 1487,1168 1487.5,1176.5 1488,1176.5 1488.5,1185.5 1489,1185.5 1489.5,1188 1490,1188 1490.5,1192.5 1491,1192.5 1491.5,1197 1492,1197 1492.5,1198.5 1493,1198.5 1493.5,1200.5 1494,1200.5 1494.5,1201 1495,1201 1495.5,1202.5 1497.5,1202.5 1498,1205.5 1498.5,1205.5 1499,1204 1503.5,1204 1504,1201.5 1504.5,1201.5 1505,1200.5 1505.5,1200.5 1506,1195 1506.5,1195 1507,1190 1508.5,1190 1509,1188 1517,1188 1517.5,1190 1518,1190 1518.5,1196.5 1519,1196.5 1519.5,1197 1520,1197 1520.5,1201 1522,1201 1522.5,1205 1524,1205 1524.5,1207 1526,1207 1526.5,1209.5 1532,1209.5 1532.5,1212.5 1537.5,1212.5 1538,1213.5 1545.5,1213.5 1546,1215.5 1546.5,1215.5 1547,1211 1554.5,1211 1555,1216 1563,1216 1563.5,1215 1571,1215 1571.5,1215.5 1574,1215.5 1574.5,1216 1577.5,1216 1578,1213.5 1585.5,1213.5 1586,1214 1586.5,1214 1587,1216 1590.5,1216 1591,1216.5 1598,1216.5 1598.5,1215.5 1599,1215.5 1599.5,1214.5 1607,1214.5 1607.5,1215.5 1611,1215.5 1611.5,1217 1613,1217 1613.5,1217.5 1618.5,1217.5 1619,1217 1619.5,1217 1620,1216.5 1627.5,1216.5 1628,1213 1632,1213 1632.5,1212.5 1638,1212.5 1638.5,1211 1640,1211 1640.5,1210 1641,1210 1641.5,1204.5 1643,1204.5 1643.5,1201.5 1644,1201.5 1644.5,1199 1645,1199 1645.5,1197.5 1646,1197.5 1646.5,1187.5 1647,1187.5 1647.5,1179.5 1648,1179.5 1648.5,1178 1649.5,1178 1650,1176.5 1650.5,1176.5 1651,1170 1652.5,1170 1653,1169 1657.5,1169 1658,1162.5 1658.5,1162.5 1659,1157 1659.5,1157 1660,1145 1660.5,1145 1661,1132.5 1661.5,1132.5 1662,1121.5 1662.5,1121.5 1663,1107 1663.5,1107 1664,1096 1664.5,1096 1665,1089.5 1665.5,1089.5 1666,1082.5 1673.5,1082.5 1674,1086 1674.5,1086 1675,1098 1676,1098 1676.5,1108 1677,1108 1677.5,1124.5 1678,1124.5 1678.5,1139.5 1679,1139.5 1679.5,1156.5 1680,1156.5 1680.5,1171 1681,1171 1681.5,1177 1682,1177 1682.5,1186 1683,1186 1683.5,1194.5 1684,1194.5 1684.5,1200.5 1685,1200.5 1685.5,1204 1686,1204 1686.5,1207 1687,1207 1687.5,1209.5 1688,1209.5 1688.5,1210 1690,1210 1690.5,1212 1691.5,1212 1692,1211.5 1694.5,1211.5 1695,1210.5 1695.5,1210.5 1696,1207.5 1696.5,1207.5 1697,1206.5 1699.5,1206.5 1700,1205 1707.5,1205 1708,1205.5 1711.5,1205.5 1712,1209 1713.5,1209 1714,1211.5 1717,1211.5 1717.5,1214.5 1720,1214.5 1720.5,1216.5 1731,1216.5 1731.5,1217 1734,1217 1734.5,1217.5 1736.5,1217.5 1737,1219 1737.5,1219 1738,1220 1738.5,1220 1739,1218.5 1741.5,1218.5 1742,1217.5 1749.5,1217.5 1750,1219 1751.5,1219 1752,1219.5 1753,1219.5 1753.5,1218 1769,1218 1769.5,1219 1770,1217.5 1777.5,1217.5 1778,1215.5 1785.5,1215.5 1786,1216.5 1792.5,1216.5 1793,1217 1796,1217 1796.5,1216 1801,1216 1801.5,1214.5 1808,1214.5 1808.5,1213.5 1809.5,1213.5 1810,1210.5 1812.5,1210.5 1813,1207 1813.5,1207 1814,1204 1814.5,1204 1815,1200.5 1815.5,1200.5 1816,1198 1816.5,1198 1817,1197 1817.5,1197 1818,1188.5 1818.5,1188.5 1819,1187 1819.5,1187 1820,1179.5 1820.5,1179.5 1821,1179 1821.5,1179 1822,1169.5 1822.5,1169.5 1823,1168.5 1823.5,1168.5 1824,1162 1824.5,1162 1825,1159 1832.5,1159 1833,1160 1833.5,1160 1834,1166 1835,1166 1835.5,1168.5 1836,1168.5 1836.5,1172.5 1837,1172.5 1837.5,1174 1838,1174 1838.5,1179.5 1839,1179.5 1839.5,1184.5 1840,1184.5 1840.5,1189 1841,1189 1841.5,1193 1842,1193 1842.5,1196.5 1843,1196.5 1843.5,1198 1844,1198 1844.5,1204 1845,1204 1845.5,1205.5 1846,1205.5 1846.5,1208.5 1847,1208.5 1847.5,1208 1848,1208 1848.5,1204.5 1849.5,1204.5 1850,1203 1850.5,1203 1851,1198.5 1851.5,1198.5 1852,1195 1852.5,1195 1853,1191 1853.5,1191 1854,1186 1854.5,1186 1855,1183 1855.5,1183 1856,1178 1856.5,1178 1857,1171 1858.5,1171 1859,1167.5 1866.5,1167.5 1867,1168.5 1867.5,1168.5 1868,1170 1868.5,1170 1869,1172.5 1869.5,1172.5 1870,1176.5 1870.5,1176.5 1871,1179.5 1871.5,1179.5 1872,1185 1872.5,1185 1873,1189.5 1873.5,1189.5 1874,1191 1875,1191 1875.5,1198 1876,1198 1876.5,1199.5 1877,1199.5 1877.5,1204.5 1878,1204.5 1878.5,1206 1879,1206 1879.5,1209 1882,1209 1882.5,1214 1883,1214 1883.5,1214.5 1884,1214.5 1884.5,1216.5 1886,1216.5 1886.5,1218.5 1890,1218.5 1890.5,1221 1892,1221 1892.5,1221.5 1905.5,1221.5 1906,1220 1913.5,1220 1914,1222 1920,1222 1920.5,1223 1923,1223 1923.5,1222.5 1930.5,1222.5 1931,1221 1938.5,1221 1939,1220 1946.5,1220 1947,1221 1952,1221 1952.5,1220 1963,1220 1963.5,1218.5 1968.5,1218.5 1969,1217.5 1969.5,1217.5 1970,1217 1971.5,1217 1972,1215 1972.5,1215 1973,1212.5 1973.5,1212.5 1974,1211 1974.5,1211 1975,1204.5 1976.5,1204.5 1977,1198.5 1977.5,1198.5 1978,1187 1978.5,1187 1979,1180.5 1979.5,1180.5 1980,1173 1980.5,1173 1981,1161.5 1981.5,1161.5 1982,1151.5 1982.5,1151.5 1983,1147.5 1983.5,1147.5 1984,1141 1991.5,1141 1992,1142.5 1992.5,1142.5 1993,1146 1993.5,1146 1994,1153 1995,1153 1995.5,1159.5 1996,1159.5 1996.5,1173 1997,1173 1997.5,1180.5 1998,1180.5 1998.5,1186.5 1999,1186.5 1999.5,1196.5 2000,1196.5 2000.5,1202.5 2002,1202.5 2002.5,1204 2004,1204 2004.5,1202 2008.5,1202 2009,1199.5 2016.5,1199.5 2017,1203 2017.5,1203 2018,1204 2019.5,1204 2020,1207.5 2021.5,1207.5 2022,1210 2022.5,1210 2023,1211.5 2023.5,1211.5 2024,1213.5 2024.5,1213.5 2025,1216 2027.5,1216 2028,1219 2029.5,1219 2030,1220 2033.5,1220 2034,1224 2036,1224 2036.5,1224.5 2037,1224.5 2037.5,1224 2039,1224 2039.5,1221.5 2047,1221.5 2047.5,1223.5 2049.5,1223.5 2050,1223 2053.5,1223 2054,1222.5 2061.5,1222.5 2062,1223.5 2063.5,1223.5 2064,1222 2071.5,1222 2072,1223.5 2073.5,1223.5 2074,1224.5 2079,1224.5 2079.5,1224 2080,1224 2080.5,1220.5 2088,1220.5 2088.5,1225.5 2089,1223.5 2096.5,1223.5 2097,1224 2104.5,1224 2105,1224.5 2111.5,1224.5 2112,1226.5 2114,1226.5 2114,1233 2113,1233 2112.5,1234.5 2098,1234.5 2097.5,1235.5 2090,1235.5 2089.5,1233.5 2089,1234 2081.5,1234 2081,1233 2080.5,1233 2080,1233.5 2069.5,1233.5 2069,1232.5 2064,1232.5 2063.5,1234 2045.5,1234 2045,1233 2044.5,1233 2044,1232.5 2042.5,1232.5 2042,1231.5 2037.5,1231.5 2037,1232 2029.5,1232 2029,1231 2024,1231 2023.5,1227.5 2023,1227.5 2022.5,1225 2019,1225 2018.5,1222.5 2018,1222.5 2017.5,1219.5 2017,1219.5 2016.5,1217.5 2016,1217.5 2015.5,1216 2015,1216 2014.5,1213.5 2013,1213.5 2012.5,1212.5 2010.5,1212.5 2010,1215.5 2008.5,1215.5 2008,1216.5 2006.5,1216.5 2006,1217.5 1998.5,1217.5 1998,1215 1997.5,1215 1997,1214.5 1996.5,1214.5 1996,1212.5 1995.5,1212.5 1995,1208.5 1993.5,1208.5 1993,1202.5 1992.5,1202.5 1992,1192.5 1991.5,1192.5 1991,1186.5 1990.5,1186.5 1990,1179 1989.5,1179 1989,1165.5 1988.5,1167.5 1988,1167.5 1987.5,1179 1987,1179 1986.5,1186.5 1986,1186.5 1985.5,1193 1985,1193 1984.5,1204.5 1984,1204.5 1983.5,1212.5 1982,1212.5 1981.5,1217 1981,1217 1980.5,1218.5 1980,1218.5 1979.5,1221 1979,1221 1978.5,1223 1977,1223 1976.5,1223.5 1976,1223.5 1975.5,1225 1973.5,1225 1973,1226.5 1972.5,1226.5 1972,1228 1969.5,1228 1969,1229 1968.5,1229 1968,1230.5 1958.5,1230.5 1958,1231.5 1955.5,1231.5 1955,1232.5 1951,1232.5 1950.5,1233 1940,1233 1939.5,1232 1934,1232 1933.5,1230.5 1929.5,1230.5 1929,1232.5 1927.5,1232.5 1927,1233 1919.5,1233 1919,1231.5 1911.5,1231.5 1911,1230 1906,1230 1905.5,1230.5 1899,1230.5 1898.5,1231 1891,1231 1890.5,1230 1888.5,1230 1888,1229.5 1887.5,1229.5 1887,1227.5 1885.5,1227.5 1885,1227 1879.5,1227 1879,1223 1877.5,1223 1877,1220.5 1876.5,1220.5 1876,1220 1875.5,1220 1875,1218 1873.5,1218 1873,1217.5 1872.5,1217.5 1872,1212 1871.5,1212 1871,1210.5 1870.5,1210.5 1870,1205.5 1869.5,1205.5 1869,1204 1868,1204 1867.5,1197 1867,1197 1866.5,1195.5 1866,1195.5 1865.5,1191 1865,1191 1864.5,1185.5 1864,1185.5 1863.5,1184 1863,1184 1862.5,1189 1862,1189 1861.5,1192 1861,1192 1860.5,1197 1860,1197 1859.5,1201 1859,1201 1858.5,1204.5 1858,1204.5 1857.5,1209 1857,1209 1856.5,1210.5 1856,1210.5 1855.5,1214 1854.5,1214 1854,1215.5 1853.5,1215.5 1853,1216.5 1850.5,1216.5 1850,1219 1842.5,1219 1842,1217.5 1839.5,1217.5 1839,1211.5 1838.5,1211.5 1838,1210 1837.5,1210 1837,1204 1836.5,1204 1836,1202.5 1835.5,1202.5 1835,1199 1834.5,1199 1834,1195 1833.5,1195 1833,1190.5 1832.5,1190.5 1832,1185.5 1831.5,1185.5 1831,1180 1830.5,1180 1830,1178.5 1829.5,1178.5 1829,1175.5 1828.5,1185 1828,1185 1827.5,1185.5 1827,1185.5 1826.5,1193 1826,1193 1825.5,1194.5 1825,1194.5 1824.5,1203 1824,1203 1823.5,1204 1823,1204 1822.5,1206.5 1822,1206.5 1821.5,1210 1821,1210 1820.5,1213 1820,1213 1819.5,1218 1817,1218 1816.5,1219.5 1816,1219.5 1815.5,1221 1814.5,1221 1814,1224 1808.5,1224 1808,1225 1803.5,1225 1803,1227 1795.5,1227 1795,1231.5 1787,1231.5 1786.5,1228 1783,1228 1782.5,1229 1775,1229 1774.5,1227 1774,1228.5 1772.5,1228.5 1772,1229.5 1764.5,1229.5 1764,1229 1760.5,1229 1760,1228.5 1755.5,1228.5 1755,1228 1745,1228 1744.5,1227.5 1744,1227.5 1743.5,1228 1741,1228 1740.5,1229 1727.5,1229 1727,1226 1726.5,1226 1726,1227 1725.5,1227 1725,1227.5 1717.5,1227.5 1717,1227 1714.5,1227 1714,1225 1713.5,1225 1713,1224.5 1710.5,1224.5 1710,1224 1708,1224 1707.5,1219.5 1707,1219.5 1706.5,1217.5 1705,1217.5 1704.5,1215 1703,1215 1702.5,1216.5 1702,1216.5 1701.5,1224.5 1694,1224.5 1693.5,1223.5 1687.5,1223.5 1687,1221.5 1683.5,1221.5 1683,1220 1681.5,1220 1681,1215.5 1680.5,1215.5 1680,1213 1679.5,1213 1679,1210 1678.5,1210 1678,1206.5 1677.5,1206.5 1677,1200.5 1676.5,1200.5 1676,1192 1675.5,1192 1675,1183 1674.5,1183 1674,1177 1673.5,1177 1673,1162.5 1672.5,1162.5 1672,1145.5 1671.5,1145.5 1671,1130.5 1670.5,1130.5 1670,1114 1669.5,1127.5 1669,1127.5 1668.5,1138.5 1668,1138.5 1667.5,1151 1667,1151 1666.5,1163 1666,1163 1665.5,1168.5 1665,1168.5 1664.5,1179.5 1658,1179.5 1657.5,1182.5 1657,1182.5 1656.5,1184 1656,1184 1655.5,1185.5 1654.5,1185.5 1654,1193.5 1653.5,1193.5 1653,1203.5 1652.5,1203.5 1652,1205 1651.5,1205 1651,1207.5 1650.5,1207.5 1650,1212 1648.5,1212 1648,1216 1647.5,1216 1647,1220.5 1644.5,1220.5 1644,1221 1643.5,1221 1643,1223 1641.5,1223 1641,1224 1635,1224 1634.5,1225 1633,1225 1632.5,1226.5 1625,1226.5 1624.5,1225.5 1622,1225.5 1621.5,1226 1621,1226 1620.5,1228.5 1613,1228.5 1612.5,1226 1606.5,1226 1606,1224.5 1604.5,1224.5 1604,1227 1588,1227 1587.5,1226 1585,1226 1584.5,1225 1584,1225 1583.5,1228 1576,1228 1575.5,1226 1568.5,1226 1568,1224.5 1565.5,1224.5 1565,1225 1563.5,1225 1563,1225.5 1560.5,1225.5 1560,1227.5 1552.5,1227.5 1552,1224.5 1551.5,1224.5 1551,1224 1545,1224 1544.5,1224.5 1537,1224.5 1536.5,1222 1535.5,1222 1535,1225.5 1527.5,1225.5 1527,1222.5 1526.5,1222.5 1526,1220 1525.5,1220 1525,1217 1517.5,1217 1517,1214.5 1515.5,1214.5 1515,1208 1513.5,1208 1513,1203 1512.5,1206.5 1512,1206.5 1511.5,1207.5 1511,1207.5 1510.5,1211.5 1510,1211.5 1509.5,1215 1508,1215 1507.5,1215.5 1493,1215.5 1492.5,1214.5 1491,1214.5 1490.5,1209.5 1488.5,1209.5 1488,1207 1487.5,1207 1487,1206.5 1486.5,1206.5 1486,1204.5 1485.5,1204.5 1485,1203 1484.5,1203 1484,1198.5 1483.5,1198.5 1483,1194 1482.5,1194 1482,1191.5 1481.5,1191.5 1481,1182.5 1480.5,1182.5 1480,1174 1479.5,1174 1479,1168.5 1478.5,1168.5 1478,1151 1477.5,1151 1477,1136 1476.5,1136 1476,1119.5 1475.5,1119.5 1475,1099.5 1474.5,1099.5 1474,1085 1473.5,1085 1473,1073.5 1472.5,1091.5 1472,1091.5 1471.5,1110 1471,1110 1470.5,1122.5 1470,1122.5 1469.5,1136 1469,1136 1468.5,1148 1468,1148 1467.5,1154 1467,1154 1466.5,1166 1466,1166 1465.5,1166.5 1458,1166.5 1457.5,1163.5 1457,1163.5 1456.5,1160 1456,1160 1455.5,1152 1455,1152 1454.5,1140 1454,1140 1453.5,1123.5 1453,1123.5 1452.5,1101 1452,1101 1451.5,1078 1451,1078 1450.5,1062 1449.5,1062 1449,1054.5 1445.5,1054.5 1445,1066 1444.5,1066 1444,1081 1443.5,1081 1443,1095 1442.5,1095 1442,1113 1441.5,1113 1441,1127.5 1440.5,1127.5 1440,1147 1439.5,1147 1439,1159.5 1438.5,1159.5 1438,1170 1437.5,1170 1437,1178.5 1436.5,1178.5 1436,1188.5 1435,1188.5 1434.5,1191.5 1434,1191.5 1433.5,1195 1433,1195 1432.5,1199.5 1432,1199.5 1431.5,1200.5 1431,1200.5 1430.5,1201 1429,1201 1428.5,1204.5 1428,1204.5 1427.5,1205 1427,1205 1426.5,1209 1426,1209 1425.5,1210 1423,1210 1422.5,1211.5 1420,1211.5 1419.5,1213.5 1412,1213.5 1411.5,1212 1411,1214 1410.5,1214 1410,1217 1408.5,1217 1408,1217.5 1400.5,1217.5 1400,1215 1399.5,1215 1399,1219.5 1391.5,1219.5 1391,1216.5 1388,1216.5 1387.5,1215.5 1387,1215.5 1386.5,1218.5 1379,1218.5 1378.5,1218 1362.5,1218 1362,1221 1355,1221 1354.5,1222 1347,1222 1346.5,1219 1346,1219 1345.5,1216.5 1339,1216.5 1338.5,1216 1332.5,1216 1332,1218.5 1324.5,1218.5 1324,1216.5 1323.5,1216.5 1323,1215 1318.5,1215 1318,1213.5 1317.5,1213.5 1317,1210.5 1312.5,1210.5 1312,1206 1310,1206 1309.5,1203 1305,1203 1304.5,1198 1304,1198 1303.5,1194.5 1303,1194.5 1302.5,1187.5 1302,1187.5 1301.5,1184 1301,1184 1300.5,1170 1300,1170 1299.5,1159 1299,1159 1298.5,1139 1298,1139 1297.5,1122 1297,1122 1296.5,1092.5 1296,1092.5 1295.5,1059 1295,1059 1294.5,1027.5 1294,1027.5 1293.5,989 1293,1008.5 1292.5,1008.5 1292,1046.5 1291.5,1046.5 1291,1076 1290.5,1076 1290,1108 1289.5,1108 1289,1134.5 1288.5,1134.5 1288,1149 1287.5,1149 1287,1162.5 1286.5,1162.5 1286,1174 1285.5,1174 1285,1182 1284.5,1182 1284,1186.5 1283.5,1186.5 1283,1195 1282.5,1195 1282,1196.5 1281.5,1196.5 1281,1197 1280.5,1197 1280,1204 1277.5,1204 1277,1207 1273,1207 1272.5,1209.5 1270,1209.5 1269.5,1211 1269,1211 1268.5,1214.5 1264,1214.5 1263.5,1216 1256,1216 1255.5,1215.5 1251,1215.5 1250.5,1214.5 1249.5,1214.5 1249,1216 1241.5,1216 1241,1214 1240.5,1214 1240,1216 1235,1216 1234.5,1218 1227,1218 1226.5,1216 1225,1216 1224.5,1216.5 1223,1216.5 1222.5,1217 1215,1217 1214.5,1215 1207.5,1215 1207,1214.5 1201.5,1214.5 1201,1213 1199.5,1213 1199,1212.5 1198.5,1212.5 1198,1212 1192.5,1212 1192,1207 1190,1207 1189.5,1209.5 1187,1209.5 1186.5,1210 1184,1210 1183.5,1212 1183,1212 1182.5,1212.5 1173.5,1212.5 1173,1213 1172.5,1213 1172,1216 1164.5,1216 1164,1214.5 1160.5,1214.5 1160,1220 1152.5,1220 1152,1215.5 1149,1215.5 1148.5,1216 1146,1216 1145.5,1218 1138,1218 1137.5,1215.5 1132,1215.5 1131.5,1215 1129.5,1215 1129,1213 1126.5,1213 1126,1212.5 1122.5,1212.5 1122,1210 1121.5,1210 1121,1202 1120.5,1202 1120,1198.5 1118.5,1198.5 1118,1203 1117.5,1203 1117,1208 1115,1208 1114.5,1209 1111,1209 1110.5,1209.5 1110,1209.5 1109.5,1210.5 1105,1210.5 1104.5,1211 1097,1211 1096.5,1208.5 1096,1210 1088.5,1210 1088,1205.5 1080.5,1205.5 1080,1204.5 1079.5,1204.5 1079,1203.5 1076.5,1203.5 1076,1203 1071.5,1203 1071,1201.5 1066,1201.5 1065.5,1196 1062,1196 1061.5,1195 1059,1195 1058.5,1188.5 1056,1188.5 1055.5,1184 1055,1184 1054.5,1182 1054,1182 1053.5,1178.5 1053,1178.5 1052.5,1178 1052,1178 1051.5,1168 1050.5,1168 1050,1156.5 1049.5,1156.5 1049,1158 1048.5,1158 1048,1163.5 1047.5,1163.5 1047,1165 1037.5,1165 1037,1161.5 1036.5,1161.5 1036,1150 1035.5,1150 1035,1142.5 1034.5,1142.5 1034,1123 1033.5,1123 1033,1097 1032.5,1097 1032,1078 1031,1078 1030.5,1077 1030,1077 1029.5,1102.5 1029,1102.5 1028.5,1123 1028,1123 1027.5,1136.5 1027,1136.5 1026.5,1153.5 1026,1153.5 1025.5,1163.5 1025,1163.5 1024.5,1167.5 1024,1167.5 1023.5,1174 1020,1174 1019.5,1175 1012,1175 1011.5,1169.5 1010.5,1169.5 1010,1161 1009.5,1161 1009,1165.5 1008.5,1165.5 1008,1170.5 1007.5,1170.5 1007,1174 1006.5,1174 1006,1183 1004.5,1183 1004,1187.5 1002.5,1187.5 1002,1189 998.5,1189 998,1190 990,1190 989.5,1185 988,1185 987.5,1176 987,1176 986.5,1165.5 986,1165.5 985.5,1173.5 985,1173.5 984.5,1183.5 984,1183.5 983.5,1190 981,1190 980.5,1193 978,1193 977.5,1194 976.5,1194 976,1196.5 971.5,1196.5 971,1197.5 966.5,1197.5 966,1201.5 960.5,1201.5 960,1202 954,1202 953.5,1203 945,1203 944.5,1200 943,1200 942.5,1202 940,1202 939.5,1203.5 932,1203.5 931.5,1203 928.5,1203 928,1201.5 927.5,1201.5 927,1206.5 919.5,1206.5 919,1204.5 917,1204.5 916.5,1205 909,1205 908.5,1202.5 902,1202.5 901.5,1202 900,1202 899.5,1202.5 895.5,1202.5 895,1203 887.5,1203 887,1200.5 881.5,1200.5 881,1199.5 877,1199.5 876.5,1201.5 866,1201.5 865.5,1200 859,1200 858.5,1201.5 850.5,1201.5 850,1200.5 845.5,1200.5 845,1200 841.5,1200 841,1197 839.5,1197 839,1198 829,1198 828.5,1198.5 821,1198.5 820.5,1196.5 820,1196.5 819.5,1197.5 815.5,1197.5 815,1199.5 807.5,1199.5 807,1197.5 801.5,1197.5 801,1197 797,1197 796.5,1198.5 789,1198.5 788.5,1195 782,1195 781.5,1189.5 780,1189.5 779.5,1188 779,1188 778.5,1187.5 776,1187.5 775.5,1187 775,1187 774.5,1186 773,1186 772.5,1183.5 771.5,1183.5 771,1177 770.5,1177 770,1175 769.5,1175 769,1173 768.5,1173 768,1167.5 767.5,1167.5 767,1159.5 766.5,1159.5 766,1133.5 765.5,1133.5 765,1109 764.5,1109 764,1122 763.5,1122 763,1145 762.5,1145 762,1152.5 761.5,1152.5 761,1170 759.5,1170 759,1171 758.5,1171 758,1179.5 755,1179.5 754.5,1180 744,1180 743.5,1179 742,1179 741.5,1173.5 741,1173.5 740.5,1173 739,1173 738.5,1172 738,1172 737.5,1170 737,1170 736.5,1166.5 736,1166.5 735.5,1163 735,1163 734.5,1162 734,1162 733.5,1161.5 731.5,1161.5 731,1157.5 730.5,1157.5 730,1152.5 729.5,1152.5 729,1152 728.5,1152 728,1147.5 727.5,1147.5 727,1145 726.5,1145 726,1138.5 725.5,1138.5 725,1130.5 724.5,1130.5 724,1127.5 723.5,1127.5 723,1116 722.5,1116 722,1106 721.5,1106 721,1094.5 720.5,1094.5 720,1076 719.5,1076 719,1060.5 718.5,1060.5 718,1039 717.5,1039 717,1004.5 716.5,1004.5 716,966 715.5,966 715,909.5 714.5,909.5 714,848.5 713.5,848.5 713,751 712.5,751 712,651.5 711,651.5 710.5,532 710,532 709.5,461.5 709,461.5 708.5,592.5 708,592.5 707.5,700.5 707,700.5 706.5,802 706,802 705.5,879 705,879 704.5,936.5 704,936.5 703.5,983 703,983 702.5,1021.5 702,1021.5 701.5,1048 701,1048 700.5,1070.5 700,1070.5 699.5,1085.5 699,1085.5 698.5,1099 697.5,1099 697,1112 696.5,1112 696,1118 695.5,1118 695,1131.5 694.5,1131.5 694,1132.5 693.5,1132.5 693,1139 692.5,1139 692,1140.5 691.5,1140.5 691,1147.5 690.5,1147.5 690,1149.5 689.5,1149.5 689,1160.5 684.5,1160.5 684,1164 683.5,1164 683,1168 682.5,1168 682,1176 675,1176 674.5,1183.5 667,1183.5 666.5,1180 659,1180 658.5,1181.5 656.5,1181.5 656,1184 654.5,1184 654,1189.5 646.5,1189.5 646,1184 645.5,1184 645,1184.5 637.5,1184.5 637,1184 636.5,1185 636,1185 635.5,1187 628,1187 627.5,1185 625,1185 624.5,1185.5 614,1185.5 613.5,1182.5 611.5,1182.5 611,1183 603.5,1183 603,1180 600.5,1180 600,1180.5 599.5,1180.5 599,1184 591,1184 590.5,1181.5 585,1181.5 584.5,1181 582,1181 581.5,1179 580,1179 579.5,1178.5 576,1178.5 575.5,1177.5 571.5,1177.5 571,1177 568.5,1177 568,1179.5 561.5,1179.5 561,1180 553.5,1180 553,1177.5 549,1177.5 548.5,1179.5 541,1179.5 540.5,1173.5 540,1173.5 539.5,1174.5 531.5,1174.5 531,1173.5 528.5,1173.5 528,1171 526.5,1171 526,1174 515.5,1174 515,1173.5 513.5,1173.5 513,1172 511,1172 510.5,1171.5 507,1171.5 506.5,1171 499,1171 498.5,1168 495,1168 494.5,1167.5 490.5,1167.5 490,1170 482.5,1170 482,1166.5 475.5,1166.5 475,1165.5 472,1165.5 471.5,1169 464,1169 463.5,1165.5 459,1165.5 458.5,1164 457,1164 456.5,1163.5 456,1163.5 455.5,1162 454.5,1162 454,1165 453.5,1165 453,1167 445.5,1167 445,1161 444.5,1161 444,1161.5 438,1161.5 437.5,1162.5 430,1162.5 429.5,1161.5 424,1161.5 423.5,1160.5 420,1160.5 419.5,1158 415,1158 414.5,1157 413.5,1157 413,1160 405.5,1160 405,1158 399.5,1158 399,1156.5 390,1156.5 389.5,1151.5 387,1151.5 386.5,1152 380,1152 379.5,1154 371.5,1154 371,1152 368.5,1152 368,1148.5 367.5,1148.5 367,1151.5 359.5,1151.5 359,1149.5 356.5,1149.5 356,1147 352,1147 351.5,1145.5 349,1145.5 348.5,1147.5 345,1147.5 344.5,1148 337,1148 336.5,1146 334,1146 333.5,1143.5 332.5,1143.5 332,1140.5 329.5,1140.5 329,1145 321.5,1145 321,1139.5 317.5,1139.5 317,1139 315.5,1139 315,1136.5 313,1136.5"/></g><g filter="url(#al)"><g fill="#a0620f"><circle cx="711.4" cy="74.4" r="18.5"/><circle cx="1002.7" cy="1081" r="15"/><circle cx="1033" cy="955" r="15"/><circle cx="1062.5" cy="1094.7" r="15"/><circle cx="1290" cy="886" r="15"/><circle cx="1440" cy="997.4" r="18.5"/><circle cx="1483" cy="1000" r="15"/><circle cx="1675" cy="1045" r="15"/><circle cx="1829.3" cy="1128" r="15"/><circle cx="1864" cy="1131" r="15"/><circle cx="1994" cy="1106" r="15"/><circle cx="2023" cy="1138" r="15"/></g><g fill="#ff8000"><rect x="752.0" y="951.0" width="30" height="30"/><rect x="961.9" y="1078.8" width="31" height="30"/><rect x="1107.0" y="1105.9" width="30" height="30"/><rect x="1439.0" y="1000.0" width="33" height="30"/><rect x="1501.0" y="1133.0" width="30" height="30"/></g></g><g filter="url(#al)"><text transform="translate(292.00,1278.50) scale(1.0000,1.0400)" font-family="Liberation Sans, Arial, sans-serif" font-size="75" font-weight="bold" text-anchor="end" fill="#000">0</text><text transform="translate(292.00,881.83) scale(1.0000,1.0400)" font-family="Liberation Sans, Arial, sans-serif" font-size="75" font-weight="bold" text-anchor="end" fill="#000">2000</text><text transform="translate(292.00,485.17) scale(1.0000,1.0400)" font-family="Liberation Sans, Arial, sans-serif" font-size="75" font-weight="bold" text-anchor="end" fill="#000">4000</text><text transform="translate(292.00,88.50) scale(1.0000,1.0400)" font-family="Liberation Sans, Arial, sans-serif" font-size="75" font-weight="bold" text-anchor="end" fill="#000">6000</text><text transform="translate(316.00,1342.00) scale(1.0000,1.0400)" font-family="Liberation Sans, Arial, sans-serif" font-size="75" font-weight="bold" text-anchor="middle" fill="#000">10</text><text transform="translate(572.43,1342.00) scale(1.0000,1.0400)" font-family="Liberation Sans, Arial, sans-serif" font-size="75" font-weight="bold" text-anchor="middle" fill="#000">20</text><text transform="translate(828.86,1342.00) scale(1.0000,1.0400)" font-family="Liberation Sans, Arial, sans-serif" font-size="75" font-weight="bold" text-anchor="middle" fill="#000">30</text><text transform="translate(1085.29,1342.00) scale(1.0000,1.0400)" font-family="Liberation Sans, Arial, sans-serif" font-size="75" font-weight="bold" text-anchor="middle" fill="#000">40</text><text transform="translate(1341.71,1342.00) scale(1.0000,1.0400)" font-family="Liberation Sans, Arial, sans-serif" font-size="75" font-weight="bold" text-anchor="middle" fill="#000">50</text><text transform="translate(1598.14,1342.00) scale(1.0000,1.0400)" font-family="Liberation Sans, Arial, sans-serif" font-size="75" font-weight="bold" text-anchor="middle" fill="#000">60</text><text transform="translate(1854.57,1342.00) scale(1.0000,1.0400)" font-family="Liberation Sans, Arial, sans-serif" font-size="75" font-weight="bold" text-anchor="middle" fill="#000">70</text><text transform="translate(2111.00,1342.00) scale(1.0000,1.0400)" font-family="Liberation Sans, Arial, sans-serif" font-size="75" font-weight="bold" text-anchor="middle" fill="#000">80</text><text transform="translate(94.50,1106.00) rotate(-90) scale(1.0000,1.0400)" font-family="Liberation Sans, Arial, sans-serif" font-size="87.8" font-weight="bold" fill="#000">Relative intensity (a.u.)</text><text transform="translate(1106.00,1461.50) scale(1.0000,1.0400)" font-family="Liberation Sans, Arial, sans-serif" font-size="86" font-weight="bold" fill="#000">2</text><text stroke="#000" stroke-width="1.2" transform="translate(1155.80,1462.90) scale(1.1800,1.0200)" font-family="Liberation Serif, serif" font-size="87" fill="#000">θ</text><text transform="translate(1226.00,1461.50) scale(0.9000,1.0400)" font-family="Liberation Sans, Arial, sans-serif" font-size="86" font-weight="bold" fill="#000">(</text><text transform="translate(1255.00,1464.50) scale(1.0800,1.1000)" font-family="Liberation Sans, Arial, sans-serif" font-size="86" font-weight="bold" fill="#000">º</text><text transform="translate(1292.50,1461.50) scale(0.9000,1.0400)" font-family="Liberation Sans, Arial, sans-serif" font-size="86" font-weight="bold" fill="#000">)</text><rect x="1435" y="105" width="49" height="6" fill="#00c000"/><rect x="1435" y="199" width="49" height="5" fill="#000"/><rect x="1433" y="291" width="49" height="6" fill="#0000ff"/><circle cx="1454.5" cy="391.4" r="18" fill="#a0620f"/><rect x="1441" y="529" width="35" height="39" fill="#ff8000"/><text transform="translate(1508.50,126.00) scale(1.0000,1.0400)" font-family="Liberation Sans, Arial, sans-serif" font-size="68.5" letter-spacing="0.40" fill="#000">TiO<tspan font-size="50" dx="1.5" dy="14.423076923076923">2</tspan></text><text transform="translate(1508.50,219.60) scale(1.0000,1.0400)" font-family="Liberation Sans, Arial, sans-serif" font-size="68.5" letter-spacing="0.15" fill="#000">TiO<tspan font-size="50" dx="1.5" dy="14.423076923076923">2</tspan><tspan dy="-14.42">/CQDs</tspan></text><text transform="translate(1505.70,311.00) scale(1.0000,1.0400)" font-family="Liberation Sans, Arial, sans-serif" font-size="68.5" letter-spacing="0.48" fill="#000">PA66/TiO<tspan font-size="50" dx="1.5" dy="14.423076923076923">2</tspan><tspan dy="-14.42">/CQDs</tspan></text><text transform="translate(1509.90,409.00) scale(1.0000,1.0400)" font-family="Liberation Sans, Arial, sans-serif" font-size="70" letter-spacing="0.15" fill="#000">Anatase</text><text transform="translate(1509.70,474.00) scale(1.0000,1.0400)" font-family="Liberation Sans, Arial, sans-serif" font-size="51.5" letter-spacing="0.67" fill="#000">JCPDS No. 00-021-1272</text><text transform="translate(1508.90,579.00) scale(1.0000,1.0400)" font-family="Liberation Sans, Arial, sans-serif" font-size="70" letter-spacing="0.80" fill="#000">Rutile</text><text transform="translate(1509.70,644.30) scale(1.0000,1.0400)" font-family="Liberation Sans, Arial, sans-serif" font-size="51.5" letter-spacing="0.72" fill="#000">JCPDS No. 00-021-1276</text></g></svg></body></html>
